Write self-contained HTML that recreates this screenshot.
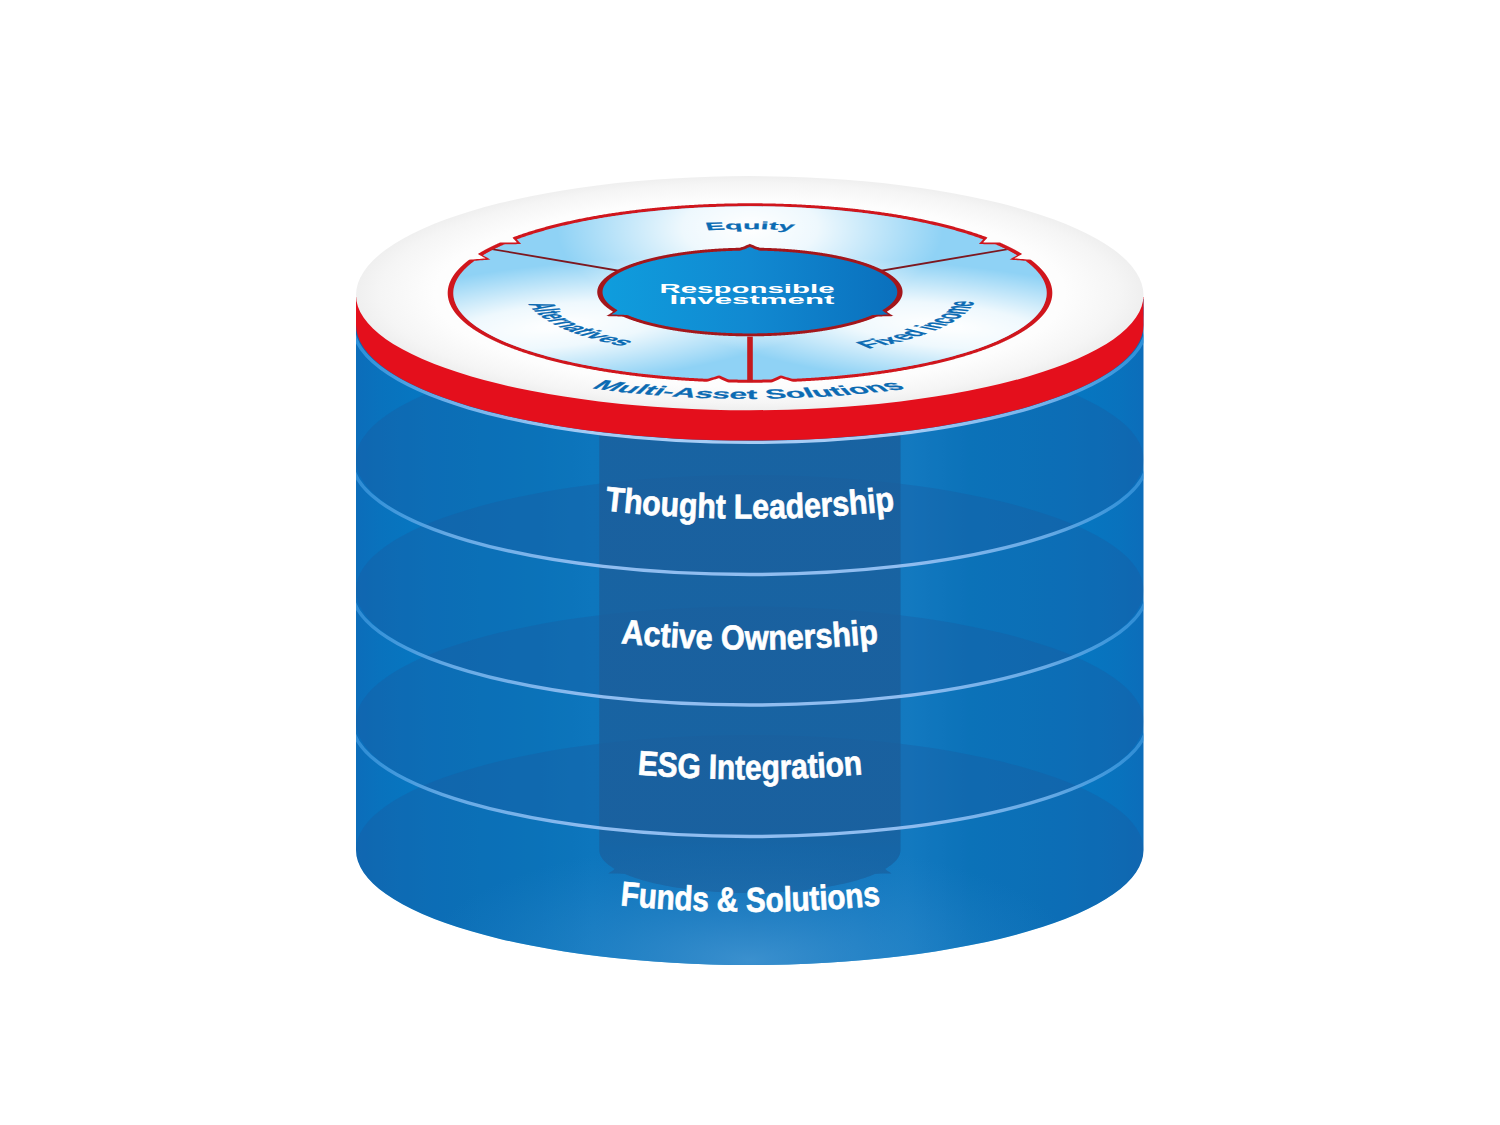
<!DOCTYPE html>
<html><head><meta charset="utf-8"><title>Responsible Investment</title>
<style>html,body{margin:0;padding:0;background:#fff}svg{display:block}text{font-family:"Liberation Sans",sans-serif;font-weight:bold}</style>
</head><body>
<svg width="1500" height="1125" viewBox="0 0 1500 1125">
<defs>
<linearGradient id="body" x1="0" x2="1" y1="0" y2="0"><stop offset="0" stop-color="#0c6dba"/><stop offset="0.03" stop-color="#0972bd"/><stop offset="0.1" stop-color="#0578c2"/><stop offset="0.22" stop-color="#037ec6"/><stop offset="0.3" stop-color="#0684cc"/><stop offset="0.5" stop-color="#067ac3"/><stop offset="0.7" stop-color="#0f89d1"/><stop offset="0.78" stop-color="#047ec6"/><stop offset="0.9" stop-color="#0578c2"/><stop offset="0.97" stop-color="#0972bd"/><stop offset="1" stop-color="#0c6dba"/></linearGradient>
<radialGradient id="disk" cx="0.5" cy="0.5" r="0.5"><stop offset="0" stop-color="#fff"/><stop offset="0.8" stop-color="#fdfdfd"/><stop offset="0.94" stop-color="#f5f5f5"/><stop offset="1" stop-color="#efefef"/></radialGradient>
<radialGradient id="glow" cx="0.5" cy="0.5" r="0.5"><stop offset="0" stop-color="#fff" stop-opacity="1"/><stop offset="0.35" stop-color="#fff" stop-opacity="0.85"/><stop offset="1" stop-color="#fff" stop-opacity="0"/></radialGradient>
<radialGradient id="bot" cx="0.5" cy="0.5" r="0.5"><stop offset="0" stop-color="#4a9bd6" stop-opacity="0.75"/><stop offset="0.5" stop-color="#3a90d0" stop-opacity="0.35"/><stop offset="1" stop-color="#2a86cc" stop-opacity="0"/></radialGradient>
<linearGradient id="lg" gradientUnits="userSpaceOnUse" x1="356" x2="1143.5" y1="0" y2="0"><stop offset="0" stop-color="#3a97de" stop-opacity="0.75"/><stop offset="0.12" stop-color="#6fb0ea" stop-opacity="0.9"/><stop offset="0.3" stop-color="#90bdf0"/><stop offset="0.7" stop-color="#90bdf0"/><stop offset="0.88" stop-color="#6fb0ea" stop-opacity="0.9"/><stop offset="1" stop-color="#3a97de" stop-opacity="0.75"/></linearGradient>
<linearGradient id="colg" gradientUnits="userSpaceOnUse" x1="0" x2="0" y1="826" y2="850"><stop offset="0" stop-color="#1e5e98" stop-opacity="0.66"/><stop offset="1" stop-color="#1e5e98" stop-opacity="0.52"/></linearGradient>
<linearGradient id="lg1" gradientUnits="userSpaceOnUse" x1="356" x2="1143.5" y1="0" y2="0"><stop offset="0" stop-color="#2f93dc" stop-opacity="0.9"/><stop offset="0.12" stop-color="#6fb0ea"/><stop offset="0.3" stop-color="#a6ccf5"/><stop offset="0.7" stop-color="#a6ccf5"/><stop offset="0.88" stop-color="#6fb0ea"/><stop offset="1" stop-color="#2f93dc" stop-opacity="0.9"/></linearGradient>
<linearGradient id="core" x1="0" x2="1" y1="0" y2="0"><stop offset="0" stop-color="#0f9ddd"/><stop offset="0.5" stop-color="#1189d1"/><stop offset="1" stop-color="#0a70bd"/></linearGradient>
<clipPath id="cb"><path d="M356,299.1 V850 A393.75,115 0 0 0 1143.5,850 V299.1 Z"/></clipPath>
<clipPath id="ring"><circle r="299.5"/></clipPath>
</defs>
<rect width="1500" height="1125" fill="#fff"/>
<path d="M356,299.1 V850 A393.75,115 0 0 0 1143.5,850 V299.1 Z" fill="url(#body)"/>
<g clip-path="url(#cb)">
<path d="M599.3,291 L599.3,850 L599.32,850.75 L599.39,851.5 L599.51,852.25 L599.67,853 L599.87,853.75 L600.13,854.5 L600.42,855.25 L600.77,855.99 L601.15,856.73 L601.59,857.47 L602.07,858.21 L602.59,858.95 L603.16,859.68 L603.77,860.41 L604.43,861.14 L605.13,861.86 L605.88,862.58 L606.67,863.3 L607.5,864.01 L608.38,864.72 L609.3,865.42 L610.27,866.12 L611.27,866.82 L612.32,867.51 L613.41,868.19 L614.54,868.87 L613.8,869.82 L612.27,870.92 L610.36,872.11 L608.22,873.38 L613.14,873.48 L617.71,873.61 L621.8,873.78 L625.05,874.07 L626.54,874.69 L628.06,875.3 L629.63,875.9 L631.23,876.5 L632.86,877.09 L634.53,877.67 L636.24,878.24 L637.98,878.8 L639.76,879.35 L641.57,879.9 L643.41,880.43 L645.28,880.96 L647.19,881.48 L649.13,881.99 L651.1,882.48 L653.1,882.97 L655.12,883.45 L657.18,883.92 L659.27,884.37 L661.38,884.82 L663.52,885.26 L665.69,885.68 L667.88,886.1 L670.09,886.5 L672.34,886.89 L674.6,887.28 L676.89,887.64 L679.2,888 L681.53,888.35 L683.88,888.69 L686.25,889.01 L688.65,889.32 L691.06,889.62 L693.48,889.91 L695.93,890.18 L698.39,890.45 L700.87,890.7 L703.36,890.93 L705.87,891.16 L708.39,891.37 L710.92,891.57 L713.47,891.76 L716.02,891.94 L718.59,892.1 L721.16,892.25 L723.75,892.39 L726.34,892.51 L728.94,892.62 L731.55,892.72 L734.16,892.81 L736.77,892.88 L739.39,892.94 L742.02,892.98 L744.64,893.02 L747.27,893.03 L749.9,893.04 L752.53,893.03 L755.16,893.02 L757.78,892.98 L760.41,892.94 L763.03,892.88 L765.64,892.81 L768.25,892.72 L770.86,892.62 L773.46,892.51 L776.05,892.39 L778.64,892.25 L781.21,892.1 L783.78,891.94 L786.33,891.76 L788.88,891.57 L791.41,891.37 L793.93,891.16 L796.44,890.93 L798.93,890.7 L801.41,890.45 L803.87,890.18 L806.32,889.91 L808.74,889.62 L811.15,889.32 L813.55,889.01 L815.92,888.69 L818.27,888.35 L820.6,888 L822.91,887.64 L825.2,887.28 L827.46,886.89 L829.71,886.5 L831.92,886.1 L834.11,885.68 L836.28,885.26 L838.42,884.82 L840.53,884.37 L842.62,883.92 L844.68,883.45 L846.7,882.97 L848.7,882.48 L850.67,881.99 L852.61,881.48 L854.52,880.96 L856.39,880.43 L858.23,879.9 L860.04,879.35 L861.82,878.8 L863.56,878.24 L865.27,877.67 L866.94,877.09 L868.57,876.5 L870.17,875.9 L871.74,875.3 L873.26,874.69 L874.75,874.07 L878,873.78 L882.09,873.61 L886.66,873.48 L891.58,873.38 L889.44,872.11 L887.53,870.92 L886,869.82 L885.26,868.87 L886.39,868.19 L887.48,867.51 L888.53,866.82 L889.53,866.12 L890.5,865.42 L891.42,864.72 L892.3,864.01 L893.13,863.3 L893.92,862.58 L894.67,861.86 L895.37,861.14 L896.03,860.41 L896.64,859.68 L897.21,858.95 L897.73,858.21 L898.21,857.47 L898.65,856.73 L899.03,855.99 L899.38,855.25 L899.67,854.5 L899.93,853.75 L900.13,853 L900.29,852.25 L900.41,851.5 L900.48,850.75 L900.5,850 L900.5,291 Z" fill="#0778c1"/>
<ellipse cx="749.75" cy="328" rx="393.75" ry="115" fill="#1c569c" fill-opacity="0.31"/>
<ellipse cx="749.75" cy="459.5" rx="393.75" ry="115" fill="#1c569c" fill-opacity="0.31"/>
<ellipse cx="749.75" cy="590" rx="393.75" ry="115" fill="#1c569c" fill-opacity="0.31"/>
<ellipse cx="749.75" cy="721.5" rx="393.75" ry="115" fill="#1c569c" fill-opacity="0.31"/>
<ellipse cx="749.75" cy="850" rx="393.75" ry="115" fill="#1c569c" fill-opacity="0.31"/>
<ellipse cx="749.75" cy="960" rx="330" ry="120" fill="url(#bot)"/>
<path d="M599.3,291 L599.3,850 L599.32,850.75 L599.39,851.5 L599.51,852.25 L599.67,853 L599.87,853.75 L600.13,854.5 L600.42,855.25 L600.77,855.99 L601.15,856.73 L601.59,857.47 L602.07,858.21 L602.59,858.95 L603.16,859.68 L603.77,860.41 L604.43,861.14 L605.13,861.86 L605.88,862.58 L606.67,863.3 L607.5,864.01 L608.38,864.72 L609.3,865.42 L610.27,866.12 L611.27,866.82 L612.32,867.51 L613.41,868.19 L614.54,868.87 L613.8,869.82 L612.27,870.92 L610.36,872.11 L608.22,873.38 L613.14,873.48 L617.71,873.61 L621.8,873.78 L625.05,874.07 L626.54,874.69 L628.06,875.3 L629.63,875.9 L631.23,876.5 L632.86,877.09 L634.53,877.67 L636.24,878.24 L637.98,878.8 L639.76,879.35 L641.57,879.9 L643.41,880.43 L645.28,880.96 L647.19,881.48 L649.13,881.99 L651.1,882.48 L653.1,882.97 L655.12,883.45 L657.18,883.92 L659.27,884.37 L661.38,884.82 L663.52,885.26 L665.69,885.68 L667.88,886.1 L670.09,886.5 L672.34,886.89 L674.6,887.28 L676.89,887.64 L679.2,888 L681.53,888.35 L683.88,888.69 L686.25,889.01 L688.65,889.32 L691.06,889.62 L693.48,889.91 L695.93,890.18 L698.39,890.45 L700.87,890.7 L703.36,890.93 L705.87,891.16 L708.39,891.37 L710.92,891.57 L713.47,891.76 L716.02,891.94 L718.59,892.1 L721.16,892.25 L723.75,892.39 L726.34,892.51 L728.94,892.62 L731.55,892.72 L734.16,892.81 L736.77,892.88 L739.39,892.94 L742.02,892.98 L744.64,893.02 L747.27,893.03 L749.9,893.04 L752.53,893.03 L755.16,893.02 L757.78,892.98 L760.41,892.94 L763.03,892.88 L765.64,892.81 L768.25,892.72 L770.86,892.62 L773.46,892.51 L776.05,892.39 L778.64,892.25 L781.21,892.1 L783.78,891.94 L786.33,891.76 L788.88,891.57 L791.41,891.37 L793.93,891.16 L796.44,890.93 L798.93,890.7 L801.41,890.45 L803.87,890.18 L806.32,889.91 L808.74,889.62 L811.15,889.32 L813.55,889.01 L815.92,888.69 L818.27,888.35 L820.6,888 L822.91,887.64 L825.2,887.28 L827.46,886.89 L829.71,886.5 L831.92,886.1 L834.11,885.68 L836.28,885.26 L838.42,884.82 L840.53,884.37 L842.62,883.92 L844.68,883.45 L846.7,882.97 L848.7,882.48 L850.67,881.99 L852.61,881.48 L854.52,880.96 L856.39,880.43 L858.23,879.9 L860.04,879.35 L861.82,878.8 L863.56,878.24 L865.27,877.67 L866.94,877.09 L868.57,876.5 L870.17,875.9 L871.74,875.3 L873.26,874.69 L874.75,874.07 L878,873.78 L882.09,873.61 L886.66,873.48 L891.58,873.38 L889.44,872.11 L887.53,870.92 L886,869.82 L885.26,868.87 L886.39,868.19 L887.48,867.51 L888.53,866.82 L889.53,866.12 L890.5,865.42 L891.42,864.72 L892.3,864.01 L893.13,863.3 L893.92,862.58 L894.67,861.86 L895.37,861.14 L896.03,860.41 L896.64,859.68 L897.21,858.95 L897.73,858.21 L898.21,857.47 L898.65,856.73 L899.03,855.99 L899.38,855.25 L899.67,854.5 L899.93,853.75 L900.13,853 L900.29,852.25 L900.41,851.5 L900.48,850.75 L900.5,850 L900.5,291 Z" fill="url(#colg)"/>
<ellipse cx="749.75" cy="325" rx="396.75" ry="117.4" fill="none" stroke="url(#lg1)" stroke-width="3.4"/>
<path d="M352,459.5 A397.75,115 0 0 0 1147.5,459.5" fill="none" stroke="url(#lg)" stroke-width="3.4"/>
<path d="M352,590 A397.75,115 0 0 0 1147.5,590" fill="none" stroke="url(#lg)" stroke-width="3.4"/>
<path d="M352,721.5 A397.75,115 0 0 0 1147.5,721.5" fill="none" stroke="url(#lg)" stroke-width="3.4"/>
</g>
<path d="M356,297.1 V325 A393.75,115.6 0 0 0 1143.5,325 V297.1 Z" fill="#e40f1c"/>
<path d="M356,295.1 V295.1 A393.75,119 0 0 1 1143.5,295.1 V295.1 A393.75,115.1 0 0 1 356,295.1 Z" fill="url(#disk)"/>
<g transform="translate(750,293) scale(1,0.29449)">
<path d="M299.5,-0 L299.5,-1.31 L299.49,-2.61 L299.47,-3.92 L299.45,-5.23 L299.43,-6.53 L299.4,-7.84 L299.36,-9.15 L299.32,-10.45 L299.27,-11.76 L299.21,-13.06 L299.16,-14.37 L299.09,-15.67 L299.02,-16.98 L298.94,-18.28 L298.86,-19.59 L298.77,-20.89 L298.68,-22.2 L298.58,-23.5 L298.47,-24.8 L298.36,-26.1 L298.24,-27.4 L298.12,-28.71 L297.99,-30.01 L297.86,-31.31 L297.72,-32.61 L297.57,-33.9 L297.42,-35.2 L297.27,-36.5 L297.11,-37.8 L296.94,-39.09 L296.76,-40.39 L296.59,-41.68 L296.4,-42.98 L296.21,-44.27 L296.01,-45.56 L295.81,-46.85 L295.61,-48.14 L295.39,-49.43 L295.17,-50.72 L294.95,-52.01 L294.72,-53.29 L294.48,-54.58 L294.24,-55.86 L294,-57.15 L293.75,-58.43 L293.49,-59.71 L293.22,-60.99 L292.96,-62.27 L292.68,-63.55 L292.4,-64.82 L292.12,-66.1 L291.82,-67.37 L291.53,-68.65 L291.22,-69.92 L290.92,-71.19 L290.6,-72.46 L290.28,-73.72 L289.96,-74.99 L289.63,-76.25 L289.29,-77.52 L288.95,-78.78 L288.61,-80.04 L288.26,-81.3 L287.9,-82.55 L287.53,-83.81 L287.17,-85.06 L286.79,-86.31 L286.41,-87.57 L286.03,-88.81 L285.64,-90.06 L285.24,-91.31 L284.84,-92.55 L284.43,-93.79 L284.02,-95.03 L283.61,-96.27 L283.18,-97.51 L282.75,-98.74 L282.32,-99.98 L281.88,-101.21 L281.44,-102.44 L280.99,-103.66 L280.53,-104.89 L280.07,-106.11 L279.61,-107.33 L279.14,-108.55 L278.66,-109.77 L278.18,-110.98 L276.44,-111.69 L274.39,-112.26 L272.34,-112.81 L270.29,-113.34 L268.24,-113.86 L266.19,-114.36 L264.14,-114.85 L262.09,-115.32 L262.51,-116.88 L263.53,-118.71 L264.55,-120.56 L265.55,-122.42 L266.55,-124.29 L267.53,-126.17 L268.5,-128.07 L269.46,-129.97 L269.19,-131.29 L268.61,-132.47 L268.03,-133.64 L267.45,-134.8 L266.86,-135.97 L266.26,-137.13 L265.66,-138.29 L265.05,-139.45 L264.44,-140.61 L263.83,-141.76 L263.21,-142.91 L262.58,-144.06 L261.95,-145.2 L261.31,-146.34 L260.67,-147.48 L260.03,-148.62 L259.37,-149.75 L258.72,-150.88 L258.06,-152.01 L257.39,-153.13 L256.72,-154.25 L256.05,-155.37 L255.37,-156.49 L254.68,-157.6 L253.99,-158.71 L253.3,-159.82 L252.6,-160.92 L251.89,-162.02 L251.18,-163.12 L250.47,-164.21 L249.75,-165.31 L249.03,-166.39 L248.3,-167.48 L247.28,-168.37 L245.16,-168.49 L243.03,-168.6 L240.91,-168.69 L238.8,-168.76 L236.68,-168.82 L234.58,-168.87 L232.47,-168.9 L230.92,-169.31 L231.53,-171.32 L232.13,-173.34 L232.72,-175.37 L233.3,-177.4 L233.86,-179.45 L234.41,-181.5 L234.95,-183.56 L235.2,-185.42 L234.39,-186.44 L233.58,-187.46 L232.76,-188.48 L231.93,-189.5 L231.1,-190.51 L230.27,-191.51 L229.43,-192.51 L228.59,-193.51 L227.74,-194.51 L226.89,-195.5 L226.04,-196.49 L225.18,-197.47 L224.31,-198.45 L223.44,-199.43 L222.57,-200.4 L221.7,-201.37 L220.81,-202.34 L219.93,-203.3 L219.04,-204.26 L218.15,-205.21 L217.25,-206.16 L216.35,-207.11 L215.44,-208.05 L214.53,-208.99 L213.62,-209.92 L212.7,-210.85 L211.78,-211.78 L210.85,-212.7 L209.92,-213.62 L208.99,-214.53 L208.05,-215.44 L207.11,-216.35 L206.16,-217.25 L205.21,-218.15 L204.26,-219.04 L203.3,-219.93 L202.34,-220.81 L201.37,-221.7 L200.4,-222.57 L199.43,-223.44 L198.45,-224.31 L197.47,-225.18 L196.49,-226.04 L195.5,-226.89 L194.51,-227.74 L193.51,-228.59 L192.51,-229.43 L191.51,-230.27 L190.51,-231.1 L189.5,-231.93 L188.48,-232.76 L187.46,-233.58 L186.44,-234.39 L185.42,-235.2 L184.39,-236.01 L183.36,-236.81 L182.32,-237.61 L181.29,-238.4 L180.24,-239.19 L179.2,-239.98 L178.15,-240.76 L177.1,-241.53 L176.04,-242.3 L174.98,-243.07 L173.92,-243.83 L172.85,-244.58 L171.79,-245.34 L170.71,-246.08 L169.64,-246.83 L168.56,-247.56 L167.48,-248.3 L166.39,-249.03 L165.31,-249.75 L164.21,-250.47 L163.12,-251.18 L162.02,-251.89 L160.92,-252.6 L159.82,-253.3 L158.71,-253.99 L157.6,-254.68 L156.49,-255.37 L155.37,-256.05 L154.25,-256.72 L153.13,-257.39 L152.01,-258.06 L150.88,-258.72 L149.75,-259.37 L148.62,-260.03 L147.48,-260.67 L146.34,-261.31 L145.2,-261.95 L144.06,-262.58 L142.91,-263.21 L141.76,-263.83 L140.61,-264.44 L139.45,-265.05 L138.29,-265.66 L137.13,-266.26 L135.97,-266.86 L134.8,-267.45 L133.64,-268.03 L132.47,-268.61 L131.29,-269.19 L130.12,-269.76 L128.94,-270.32 L127.76,-270.88 L126.57,-271.44 L125.39,-271.99 L124.2,-272.53 L123.01,-273.07 L121.82,-273.61 L120.62,-274.14 L119.43,-274.66 L118.23,-275.18 L117.02,-275.69 L115.82,-276.2 L114.61,-276.7 L113.41,-277.2 L112.19,-277.69 L110.98,-278.18 L109.77,-278.66 L108.55,-279.14 L107.33,-279.61 L106.11,-280.07 L104.89,-280.53 L103.66,-280.99 L102.44,-281.44 L101.21,-281.88 L99.98,-282.32 L98.74,-282.75 L97.51,-283.18 L96.27,-283.61 L95.03,-284.02 L93.79,-284.43 L92.55,-284.84 L91.31,-285.24 L90.06,-285.64 L88.81,-286.03 L87.57,-286.41 L86.31,-286.79 L85.06,-287.17 L83.81,-287.53 L82.55,-287.9 L81.3,-288.26 L80.04,-288.61 L78.78,-288.95 L77.52,-289.29 L76.25,-289.63 L74.99,-289.96 L73.72,-290.28 L72.46,-290.6 L71.19,-290.92 L69.92,-291.22 L68.65,-291.53 L67.37,-291.82 L66.1,-292.12 L64.82,-292.4 L63.55,-292.68 L62.27,-292.96 L60.99,-293.22 L59.71,-293.49 L58.43,-293.75 L57.15,-294 L55.86,-294.24 L54.58,-294.48 L53.29,-294.72 L52.01,-294.95 L50.72,-295.17 L49.43,-295.39 L48.14,-295.61 L46.85,-295.81 L45.56,-296.01 L44.27,-296.21 L42.98,-296.4 L41.68,-296.59 L40.39,-296.76 L39.09,-296.94 L37.8,-297.11 L36.5,-297.27 L35.2,-297.42 L33.9,-297.57 L32.61,-297.72 L31.31,-297.86 L30.01,-297.99 L28.71,-298.12 L27.4,-298.24 L26.1,-298.36 L24.8,-298.47 L23.5,-298.58 L22.2,-298.68 L20.89,-298.77 L19.59,-298.86 L18.28,-298.94 L16.98,-299.02 L15.67,-299.09 L14.37,-299.16 L13.06,-299.21 L11.76,-299.27 L10.45,-299.32 L9.15,-299.36 L7.84,-299.4 L6.53,-299.43 L5.23,-299.45 L3.92,-299.47 L2.61,-299.49 L1.31,-299.5 L0,-299.5 L-1.31,-299.5 L-2.61,-299.49 L-3.92,-299.47 L-5.23,-299.45 L-6.53,-299.43 L-7.84,-299.4 L-9.15,-299.36 L-10.45,-299.32 L-11.76,-299.27 L-13.06,-299.21 L-14.37,-299.16 L-15.67,-299.09 L-16.98,-299.02 L-18.28,-298.94 L-19.59,-298.86 L-20.89,-298.77 L-22.2,-298.68 L-23.5,-298.58 L-24.8,-298.47 L-26.1,-298.36 L-27.4,-298.24 L-28.71,-298.12 L-30.01,-297.99 L-31.31,-297.86 L-32.61,-297.72 L-33.9,-297.57 L-35.2,-297.42 L-36.5,-297.27 L-37.8,-297.11 L-39.09,-296.94 L-40.39,-296.76 L-41.68,-296.59 L-42.98,-296.4 L-44.27,-296.21 L-45.56,-296.01 L-46.85,-295.81 L-48.14,-295.61 L-49.43,-295.39 L-50.72,-295.17 L-52.01,-294.95 L-53.29,-294.72 L-54.58,-294.48 L-55.86,-294.24 L-57.15,-294 L-58.43,-293.75 L-59.71,-293.49 L-60.99,-293.22 L-62.27,-292.96 L-63.55,-292.68 L-64.82,-292.4 L-66.1,-292.12 L-67.37,-291.82 L-68.65,-291.53 L-69.92,-291.22 L-71.19,-290.92 L-72.46,-290.6 L-73.72,-290.28 L-74.99,-289.96 L-76.25,-289.63 L-77.52,-289.29 L-78.78,-288.95 L-80.04,-288.61 L-81.3,-288.26 L-82.55,-287.9 L-83.81,-287.53 L-85.06,-287.17 L-86.31,-286.79 L-87.57,-286.41 L-88.81,-286.03 L-90.06,-285.64 L-91.31,-285.24 L-92.55,-284.84 L-93.79,-284.43 L-95.03,-284.02 L-96.27,-283.61 L-97.51,-283.18 L-98.74,-282.75 L-99.98,-282.32 L-101.21,-281.88 L-102.44,-281.44 L-103.66,-280.99 L-104.89,-280.53 L-106.11,-280.07 L-107.33,-279.61 L-108.55,-279.14 L-109.77,-278.66 L-110.98,-278.18 L-112.19,-277.69 L-113.41,-277.2 L-114.61,-276.7 L-115.82,-276.2 L-117.02,-275.69 L-118.23,-275.18 L-119.43,-274.66 L-120.62,-274.14 L-121.82,-273.61 L-123.01,-273.07 L-124.2,-272.53 L-125.39,-271.99 L-126.57,-271.44 L-127.76,-270.88 L-128.94,-270.32 L-130.12,-269.76 L-131.29,-269.19 L-132.47,-268.61 L-133.64,-268.03 L-134.8,-267.45 L-135.97,-266.86 L-137.13,-266.26 L-138.29,-265.66 L-139.45,-265.05 L-140.61,-264.44 L-141.76,-263.83 L-142.91,-263.21 L-144.06,-262.58 L-145.2,-261.95 L-146.34,-261.31 L-147.48,-260.67 L-148.62,-260.03 L-149.75,-259.37 L-150.88,-258.72 L-152.01,-258.06 L-153.13,-257.39 L-154.25,-256.72 L-155.37,-256.05 L-156.49,-255.37 L-157.6,-254.68 L-158.71,-253.99 L-159.82,-253.3 L-160.92,-252.6 L-162.02,-251.89 L-163.12,-251.18 L-164.21,-250.47 L-165.31,-249.75 L-166.39,-249.03 L-167.48,-248.3 L-168.56,-247.56 L-169.64,-246.83 L-170.71,-246.08 L-171.79,-245.34 L-172.85,-244.58 L-173.92,-243.83 L-174.98,-243.07 L-176.04,-242.3 L-177.1,-241.53 L-178.15,-240.76 L-179.2,-239.98 L-180.24,-239.19 L-181.29,-238.4 L-182.32,-237.61 L-183.36,-236.81 L-184.39,-236.01 L-185.42,-235.2 L-186.44,-234.39 L-187.46,-233.58 L-188.48,-232.76 L-189.5,-231.93 L-190.51,-231.1 L-191.51,-230.27 L-192.51,-229.43 L-193.51,-228.59 L-194.51,-227.74 L-195.5,-226.89 L-196.49,-226.04 L-197.47,-225.18 L-198.45,-224.31 L-199.43,-223.44 L-200.4,-222.57 L-201.37,-221.7 L-202.34,-220.81 L-203.3,-219.93 L-204.26,-219.04 L-205.21,-218.15 L-206.16,-217.25 L-207.11,-216.35 L-208.05,-215.44 L-208.99,-214.53 L-209.92,-213.62 L-210.85,-212.7 L-211.78,-211.78 L-212.7,-210.85 L-213.62,-209.92 L-214.53,-208.99 L-215.44,-208.05 L-216.35,-207.11 L-217.25,-206.16 L-218.15,-205.21 L-219.04,-204.26 L-219.93,-203.3 L-220.81,-202.34 L-221.7,-201.37 L-222.57,-200.4 L-223.44,-199.43 L-224.31,-198.45 L-225.18,-197.47 L-226.04,-196.49 L-226.89,-195.5 L-227.74,-194.51 L-228.59,-193.51 L-229.43,-192.51 L-230.27,-191.51 L-231.1,-190.51 L-231.93,-189.5 L-232.76,-188.48 L-233.58,-187.46 L-234.39,-186.44 L-235.2,-185.42 L-234.95,-183.56 L-234.41,-181.5 L-233.86,-179.45 L-233.3,-177.4 L-232.72,-175.37 L-232.13,-173.34 L-231.53,-171.32 L-230.92,-169.31 L-232.47,-168.9 L-234.58,-168.87 L-236.68,-168.82 L-238.8,-168.76 L-240.91,-168.69 L-243.03,-168.6 L-245.16,-168.49 L-247.28,-168.37 L-248.3,-167.48 L-249.03,-166.39 L-249.75,-165.31 L-250.47,-164.21 L-251.18,-163.12 L-251.89,-162.02 L-252.6,-160.92 L-253.3,-159.82 L-253.99,-158.71 L-254.68,-157.6 L-255.37,-156.49 L-256.05,-155.37 L-256.72,-154.25 L-257.39,-153.13 L-258.06,-152.01 L-258.72,-150.88 L-259.37,-149.75 L-260.03,-148.62 L-260.67,-147.48 L-261.31,-146.34 L-261.95,-145.2 L-262.58,-144.06 L-263.21,-142.91 L-263.83,-141.76 L-264.44,-140.61 L-265.05,-139.45 L-265.66,-138.29 L-266.26,-137.13 L-266.86,-135.97 L-267.45,-134.8 L-268.03,-133.64 L-268.61,-132.47 L-269.19,-131.29 L-269.46,-129.97 L-268.5,-128.07 L-267.53,-126.17 L-266.55,-124.29 L-265.55,-122.42 L-264.55,-120.56 L-263.53,-118.71 L-262.51,-116.88 L-262.09,-115.32 L-264.14,-114.85 L-266.19,-114.36 L-268.24,-113.86 L-270.29,-113.34 L-272.34,-112.81 L-274.39,-112.26 L-276.44,-111.69 L-278.18,-110.98 L-278.66,-109.77 L-279.14,-108.55 L-279.61,-107.33 L-280.07,-106.11 L-280.53,-104.89 L-280.99,-103.66 L-281.44,-102.44 L-281.88,-101.21 L-282.32,-99.98 L-282.75,-98.74 L-283.18,-97.51 L-283.61,-96.27 L-284.02,-95.03 L-284.43,-93.79 L-284.84,-92.55 L-285.24,-91.31 L-285.64,-90.06 L-286.03,-88.81 L-286.41,-87.57 L-286.79,-86.31 L-287.17,-85.06 L-287.53,-83.81 L-287.9,-82.55 L-288.26,-81.3 L-288.61,-80.04 L-288.95,-78.78 L-289.29,-77.52 L-289.63,-76.25 L-289.96,-74.99 L-290.28,-73.72 L-290.6,-72.46 L-290.92,-71.19 L-291.22,-69.92 L-291.53,-68.65 L-291.82,-67.37 L-292.12,-66.1 L-292.4,-64.82 L-292.68,-63.55 L-292.96,-62.27 L-293.22,-60.99 L-293.49,-59.71 L-293.75,-58.43 L-294,-57.15 L-294.24,-55.86 L-294.48,-54.58 L-294.72,-53.29 L-294.95,-52.01 L-295.17,-50.72 L-295.39,-49.43 L-295.61,-48.14 L-295.81,-46.85 L-296.01,-45.56 L-296.21,-44.27 L-296.4,-42.98 L-296.59,-41.68 L-296.76,-40.39 L-296.94,-39.09 L-297.11,-37.8 L-297.27,-36.5 L-297.42,-35.2 L-297.57,-33.9 L-297.72,-32.61 L-297.86,-31.31 L-297.99,-30.01 L-298.12,-28.71 L-298.24,-27.4 L-298.36,-26.1 L-298.47,-24.8 L-298.58,-23.5 L-298.68,-22.2 L-298.77,-20.89 L-298.86,-19.59 L-298.94,-18.28 L-299.02,-16.98 L-299.09,-15.67 L-299.16,-14.37 L-299.21,-13.06 L-299.27,-11.76 L-299.32,-10.45 L-299.36,-9.15 L-299.4,-7.84 L-299.43,-6.53 L-299.45,-5.23 L-299.47,-3.92 L-299.49,-2.61 L-299.5,-1.31 L-299.5,-0 L-299.5,1.31 L-299.49,2.61 L-299.47,3.92 L-299.45,5.23 L-299.43,6.53 L-299.4,7.84 L-299.36,9.15 L-299.32,10.45 L-299.27,11.76 L-299.21,13.06 L-299.16,14.37 L-299.09,15.67 L-299.02,16.98 L-298.94,18.28 L-298.86,19.59 L-298.77,20.89 L-298.68,22.2 L-298.58,23.5 L-298.47,24.8 L-298.36,26.1 L-298.24,27.4 L-298.12,28.71 L-297.99,30.01 L-297.86,31.31 L-297.72,32.61 L-297.57,33.9 L-297.42,35.2 L-297.27,36.5 L-297.11,37.8 L-296.94,39.09 L-296.76,40.39 L-296.59,41.68 L-296.4,42.98 L-296.21,44.27 L-296.01,45.56 L-295.81,46.85 L-295.61,48.14 L-295.39,49.43 L-295.17,50.72 L-294.95,52.01 L-294.72,53.29 L-294.48,54.58 L-294.24,55.86 L-294,57.15 L-293.75,58.43 L-293.49,59.71 L-293.22,60.99 L-292.96,62.27 L-292.68,63.55 L-292.4,64.82 L-292.12,66.1 L-291.82,67.37 L-291.53,68.65 L-291.22,69.92 L-290.92,71.19 L-290.6,72.46 L-290.28,73.72 L-289.96,74.99 L-289.63,76.25 L-289.29,77.52 L-288.95,78.78 L-288.61,80.04 L-288.26,81.3 L-287.9,82.55 L-287.53,83.81 L-287.17,85.06 L-286.79,86.31 L-286.41,87.57 L-286.03,88.81 L-285.64,90.06 L-285.24,91.31 L-284.84,92.55 L-284.43,93.79 L-284.02,95.03 L-283.61,96.27 L-283.18,97.51 L-282.75,98.74 L-282.32,99.98 L-281.88,101.21 L-281.44,102.44 L-280.99,103.66 L-280.53,104.89 L-280.07,106.11 L-279.61,107.33 L-279.14,108.55 L-278.66,109.77 L-278.18,110.98 L-277.69,112.19 L-277.2,113.41 L-276.7,114.61 L-276.2,115.82 L-275.69,117.02 L-275.18,118.23 L-274.66,119.43 L-274.14,120.62 L-273.61,121.82 L-273.07,123.01 L-272.53,124.2 L-271.99,125.39 L-271.44,126.57 L-270.88,127.76 L-270.32,128.94 L-269.76,130.12 L-269.19,131.29 L-268.61,132.47 L-268.03,133.64 L-267.45,134.8 L-266.86,135.97 L-266.26,137.13 L-265.66,138.29 L-265.05,139.45 L-264.44,140.61 L-263.83,141.76 L-263.21,142.91 L-262.58,144.06 L-261.95,145.2 L-261.31,146.34 L-260.67,147.48 L-260.03,148.62 L-259.37,149.75 L-258.72,150.88 L-258.06,152.01 L-257.39,153.13 L-256.72,154.25 L-256.05,155.37 L-255.37,156.49 L-254.68,157.6 L-253.99,158.71 L-253.3,159.82 L-252.6,160.92 L-251.89,162.02 L-251.18,163.12 L-250.47,164.21 L-249.75,165.31 L-249.03,166.39 L-248.3,167.48 L-247.56,168.56 L-246.83,169.64 L-246.08,170.71 L-245.34,171.79 L-244.58,172.85 L-243.83,173.92 L-243.07,174.98 L-242.3,176.04 L-241.53,177.1 L-240.76,178.15 L-239.98,179.2 L-239.19,180.24 L-238.4,181.29 L-237.61,182.32 L-236.81,183.36 L-236.01,184.39 L-235.2,185.42 L-234.39,186.44 L-233.58,187.46 L-232.76,188.48 L-231.93,189.5 L-231.1,190.51 L-230.27,191.51 L-229.43,192.51 L-228.59,193.51 L-227.74,194.51 L-226.89,195.5 L-226.04,196.49 L-225.18,197.47 L-224.31,198.45 L-223.44,199.43 L-222.57,200.4 L-221.7,201.37 L-220.81,202.34 L-219.93,203.3 L-219.04,204.26 L-218.15,205.21 L-217.25,206.16 L-216.35,207.11 L-215.44,208.05 L-214.53,208.99 L-213.62,209.92 L-212.7,210.85 L-211.78,211.78 L-210.85,212.7 L-209.92,213.62 L-208.99,214.53 L-208.05,215.44 L-207.11,216.35 L-206.16,217.25 L-205.21,218.15 L-204.26,219.04 L-203.3,219.93 L-202.34,220.81 L-201.37,221.7 L-200.4,222.57 L-199.43,223.44 L-198.45,224.31 L-197.47,225.18 L-196.49,226.04 L-195.5,226.89 L-194.51,227.74 L-193.51,228.59 L-192.51,229.43 L-191.51,230.27 L-190.51,231.1 L-189.5,231.93 L-188.48,232.76 L-187.46,233.58 L-186.44,234.39 L-185.42,235.2 L-184.39,236.01 L-183.36,236.81 L-182.32,237.61 L-181.29,238.4 L-180.24,239.19 L-179.2,239.98 L-178.15,240.76 L-177.1,241.53 L-176.04,242.3 L-174.98,243.07 L-173.92,243.83 L-172.85,244.58 L-171.79,245.34 L-170.71,246.08 L-169.64,246.83 L-168.56,247.56 L-167.48,248.3 L-166.39,249.03 L-165.31,249.75 L-164.21,250.47 L-163.12,251.18 L-162.02,251.89 L-160.92,252.6 L-159.82,253.3 L-158.71,253.99 L-157.6,254.68 L-156.49,255.37 L-155.37,256.05 L-154.25,256.72 L-153.13,257.39 L-152.01,258.06 L-150.88,258.72 L-149.75,259.37 L-148.62,260.03 L-147.48,260.67 L-146.34,261.31 L-145.2,261.95 L-144.06,262.58 L-142.91,263.21 L-141.76,263.83 L-140.61,264.44 L-139.45,265.05 L-138.29,265.66 L-137.13,266.26 L-135.97,266.86 L-134.8,267.45 L-133.64,268.03 L-132.47,268.61 L-131.29,269.19 L-130.12,269.76 L-128.94,270.32 L-127.76,270.88 L-126.57,271.44 L-125.39,271.99 L-124.2,272.53 L-123.01,273.07 L-121.82,273.61 L-120.62,274.14 L-119.43,274.66 L-118.23,275.18 L-117.02,275.69 L-115.82,276.2 L-114.61,276.7 L-113.41,277.2 L-112.19,277.69 L-110.98,278.18 L-109.77,278.66 L-108.55,279.14 L-107.33,279.61 L-106.11,280.07 L-104.89,280.53 L-103.66,280.99 L-102.44,281.44 L-101.21,281.88 L-99.98,282.32 L-98.74,282.75 L-97.51,283.18 L-96.27,283.61 L-95.03,284.02 L-93.79,284.43 L-92.55,284.84 L-91.31,285.24 L-90.06,285.64 L-88.81,286.03 L-87.57,286.41 L-86.31,286.79 L-85.06,287.17 L-83.81,287.53 L-82.55,287.9 L-81.3,288.26 L-80.04,288.61 L-78.78,288.95 L-77.52,289.29 L-76.25,289.63 L-74.99,289.96 L-73.72,290.28 L-72.46,290.6 L-71.19,290.92 L-69.92,291.22 L-68.65,291.53 L-67.37,291.82 L-66.1,292.12 L-64.82,292.4 L-63.55,292.68 L-62.27,292.96 L-60.99,293.22 L-59.71,293.49 L-58.43,293.75 L-57.15,294 L-55.86,294.24 L-54.58,294.48 L-53.29,294.72 L-52.01,294.95 L-50.72,295.17 L-49.43,295.39 L-48.14,295.61 L-46.85,295.81 L-45.56,296.01 L-44.27,296.21 L-42.98,296.4 L-41.49,295.25 L-39.98,293.75 L-38.48,292.25 L-36.99,290.74 L-35.51,289.23 L-34.05,287.7 L-32.61,286.17 L-31.17,284.64 L-30.04,285.78 L-28.96,287.58 L-27.86,289.39 L-26.76,291.19 L-25.63,292.98 L-24.49,294.77 L-23.34,296.56 L-22.17,298.34 L-20.89,298.77 L-19.59,298.86 L-18.28,298.94 L-16.98,299.02 L-15.67,299.09 L-14.37,299.16 L-13.06,299.21 L-11.76,299.27 L-10.45,299.32 L-9.15,299.36 L-7.84,299.4 L-6.53,299.43 L-5.23,299.45 L-3.92,299.47 L-2.61,299.49 L-1.31,299.5 L-0,299.5 L1.31,299.5 L2.61,299.49 L3.92,299.47 L5.23,299.45 L6.53,299.43 L7.84,299.4 L9.15,299.36 L10.45,299.32 L11.76,299.27 L13.06,299.21 L14.37,299.16 L15.67,299.09 L16.98,299.02 L18.28,298.94 L19.59,298.86 L20.89,298.77 L22.17,298.34 L23.34,296.56 L24.49,294.77 L25.63,292.98 L26.76,291.19 L27.86,289.39 L28.96,287.58 L30.04,285.78 L31.17,284.64 L32.61,286.17 L34.05,287.7 L35.51,289.23 L36.99,290.74 L38.48,292.25 L39.98,293.75 L41.49,295.25 L42.98,296.4 L44.27,296.21 L45.56,296.01 L46.85,295.81 L48.14,295.61 L49.43,295.39 L50.72,295.17 L52.01,294.95 L53.29,294.72 L54.58,294.48 L55.86,294.24 L57.15,294 L58.43,293.75 L59.71,293.49 L60.99,293.22 L62.27,292.96 L63.55,292.68 L64.82,292.4 L66.1,292.12 L67.37,291.82 L68.65,291.53 L69.92,291.22 L71.19,290.92 L72.46,290.6 L73.72,290.28 L74.99,289.96 L76.25,289.63 L77.52,289.29 L78.78,288.95 L80.04,288.61 L81.3,288.26 L82.55,287.9 L83.81,287.53 L85.06,287.17 L86.31,286.79 L87.57,286.41 L88.81,286.03 L90.06,285.64 L91.31,285.24 L92.55,284.84 L93.79,284.43 L95.03,284.02 L96.27,283.61 L97.51,283.18 L98.74,282.75 L99.98,282.32 L101.21,281.88 L102.44,281.44 L103.66,280.99 L104.89,280.53 L106.11,280.07 L107.33,279.61 L108.55,279.14 L109.77,278.66 L110.98,278.18 L112.19,277.69 L113.41,277.2 L114.61,276.7 L115.82,276.2 L117.02,275.69 L118.23,275.18 L119.43,274.66 L120.62,274.14 L121.82,273.61 L123.01,273.07 L124.2,272.53 L125.39,271.99 L126.57,271.44 L127.76,270.88 L128.94,270.32 L130.12,269.76 L131.29,269.19 L132.47,268.61 L133.64,268.03 L134.8,267.45 L135.97,266.86 L137.13,266.26 L138.29,265.66 L139.45,265.05 L140.61,264.44 L141.76,263.83 L142.91,263.21 L144.06,262.58 L145.2,261.95 L146.34,261.31 L147.48,260.67 L148.62,260.03 L149.75,259.37 L150.88,258.72 L152.01,258.06 L153.13,257.39 L154.25,256.72 L155.37,256.05 L156.49,255.37 L157.6,254.68 L158.71,253.99 L159.82,253.3 L160.92,252.6 L162.02,251.89 L163.12,251.18 L164.21,250.47 L165.31,249.75 L166.39,249.03 L167.48,248.3 L168.56,247.56 L169.64,246.83 L170.71,246.08 L171.79,245.34 L172.85,244.58 L173.92,243.83 L174.98,243.07 L176.04,242.3 L177.1,241.53 L178.15,240.76 L179.2,239.98 L180.24,239.19 L181.29,238.4 L182.32,237.61 L183.36,236.81 L184.39,236.01 L185.42,235.2 L186.44,234.39 L187.46,233.58 L188.48,232.76 L189.5,231.93 L190.51,231.1 L191.51,230.27 L192.51,229.43 L193.51,228.59 L194.51,227.74 L195.5,226.89 L196.49,226.04 L197.47,225.18 L198.45,224.31 L199.43,223.44 L200.4,222.57 L201.37,221.7 L202.34,220.81 L203.3,219.93 L204.26,219.04 L205.21,218.15 L206.16,217.25 L207.11,216.35 L208.05,215.44 L208.99,214.53 L209.92,213.62 L210.85,212.7 L211.78,211.78 L212.7,210.85 L213.62,209.92 L214.53,208.99 L215.44,208.05 L216.35,207.11 L217.25,206.16 L218.15,205.21 L219.04,204.26 L219.93,203.3 L220.81,202.34 L221.7,201.37 L222.57,200.4 L223.44,199.43 L224.31,198.45 L225.18,197.47 L226.04,196.49 L226.89,195.5 L227.74,194.51 L228.59,193.51 L229.43,192.51 L230.27,191.51 L231.1,190.51 L231.93,189.5 L232.76,188.48 L233.58,187.46 L234.39,186.44 L235.2,185.42 L236.01,184.39 L236.81,183.36 L237.61,182.32 L238.4,181.29 L239.19,180.24 L239.98,179.2 L240.76,178.15 L241.53,177.1 L242.3,176.04 L243.07,174.98 L243.83,173.92 L244.58,172.85 L245.34,171.79 L246.08,170.71 L246.83,169.64 L247.56,168.56 L248.3,167.48 L249.03,166.39 L249.75,165.31 L250.47,164.21 L251.18,163.12 L251.89,162.02 L252.6,160.92 L253.3,159.82 L253.99,158.71 L254.68,157.6 L255.37,156.49 L256.05,155.37 L256.72,154.25 L257.39,153.13 L258.06,152.01 L258.72,150.88 L259.37,149.75 L260.03,148.62 L260.67,147.48 L261.31,146.34 L261.95,145.2 L262.58,144.06 L263.21,142.91 L263.83,141.76 L264.44,140.61 L265.05,139.45 L265.66,138.29 L266.26,137.13 L266.86,135.97 L267.45,134.8 L268.03,133.64 L268.61,132.47 L269.19,131.29 L269.76,130.12 L270.32,128.94 L270.88,127.76 L271.44,126.57 L271.99,125.39 L272.53,124.2 L273.07,123.01 L273.61,121.82 L274.14,120.62 L274.66,119.43 L275.18,118.23 L275.69,117.02 L276.2,115.82 L276.7,114.61 L277.2,113.41 L277.69,112.19 L278.18,110.98 L278.66,109.77 L279.14,108.55 L279.61,107.33 L280.07,106.11 L280.53,104.89 L280.99,103.66 L281.44,102.44 L281.88,101.21 L282.32,99.98 L282.75,98.74 L283.18,97.51 L283.61,96.27 L284.02,95.03 L284.43,93.79 L284.84,92.55 L285.24,91.31 L285.64,90.06 L286.03,88.81 L286.41,87.57 L286.79,86.31 L287.17,85.06 L287.53,83.81 L287.9,82.55 L288.26,81.3 L288.61,80.04 L288.95,78.78 L289.29,77.52 L289.63,76.25 L289.96,74.99 L290.28,73.72 L290.6,72.46 L290.92,71.19 L291.22,69.92 L291.53,68.65 L291.82,67.37 L292.12,66.1 L292.4,64.82 L292.68,63.55 L292.96,62.27 L293.22,60.99 L293.49,59.71 L293.75,58.43 L294,57.15 L294.24,55.86 L294.48,54.58 L294.72,53.29 L294.95,52.01 L295.17,50.72 L295.39,49.43 L295.61,48.14 L295.81,46.85 L296.01,45.56 L296.21,44.27 L296.4,42.98 L296.59,41.68 L296.76,40.39 L296.94,39.09 L297.11,37.8 L297.27,36.5 L297.42,35.2 L297.57,33.9 L297.72,32.61 L297.86,31.31 L297.99,30.01 L298.12,28.71 L298.24,27.4 L298.36,26.1 L298.47,24.8 L298.58,23.5 L298.68,22.2 L298.77,20.89 L298.86,19.59 L298.94,18.28 L299.02,16.98 L299.09,15.67 L299.16,14.37 L299.21,13.06 L299.27,11.76 L299.32,10.45 L299.36,9.15 L299.4,7.84 L299.43,6.53 L299.45,5.23 L299.47,3.92 L299.49,2.61 L299.5,1.31 L299.5,0 Z" fill="#d0161d" transform="scale(1.00935,1.01701)"/>
<g transform="scale(0.99065,0.98299)">
<path d="M299.5,-0 L299.5,-1.31 L299.49,-2.61 L299.47,-3.92 L299.45,-5.23 L299.43,-6.53 L299.4,-7.84 L299.36,-9.15 L299.32,-10.45 L299.27,-11.76 L299.21,-13.06 L299.16,-14.37 L299.09,-15.67 L299.02,-16.98 L298.94,-18.28 L298.86,-19.59 L298.77,-20.89 L298.68,-22.2 L298.58,-23.5 L298.47,-24.8 L298.36,-26.1 L298.24,-27.4 L298.12,-28.71 L297.99,-30.01 L297.86,-31.31 L297.72,-32.61 L297.57,-33.9 L297.42,-35.2 L297.27,-36.5 L297.11,-37.8 L296.94,-39.09 L296.76,-40.39 L296.59,-41.68 L296.4,-42.98 L296.21,-44.27 L296.01,-45.56 L295.81,-46.85 L295.61,-48.14 L295.39,-49.43 L295.17,-50.72 L294.95,-52.01 L294.72,-53.29 L294.48,-54.58 L294.24,-55.86 L294,-57.15 L293.75,-58.43 L293.49,-59.71 L293.22,-60.99 L292.96,-62.27 L292.68,-63.55 L292.4,-64.82 L292.12,-66.1 L291.82,-67.37 L291.53,-68.65 L291.22,-69.92 L290.92,-71.19 L290.6,-72.46 L290.28,-73.72 L289.96,-74.99 L289.63,-76.25 L289.29,-77.52 L288.95,-78.78 L288.61,-80.04 L288.26,-81.3 L287.9,-82.55 L287.53,-83.81 L287.17,-85.06 L286.79,-86.31 L286.41,-87.57 L286.03,-88.81 L285.64,-90.06 L285.24,-91.31 L284.84,-92.55 L284.43,-93.79 L284.02,-95.03 L283.61,-96.27 L283.18,-97.51 L282.75,-98.74 L282.32,-99.98 L281.88,-101.21 L281.44,-102.44 L280.99,-103.66 L280.53,-104.89 L280.07,-106.11 L279.61,-107.33 L279.14,-108.55 L278.66,-109.77 L278.18,-110.98 L276.44,-111.69 L274.39,-112.26 L272.34,-112.81 L270.29,-113.34 L268.24,-113.86 L266.19,-114.36 L264.14,-114.85 L262.09,-115.32 L262.51,-116.88 L263.53,-118.71 L264.55,-120.56 L265.55,-122.42 L266.55,-124.29 L267.53,-126.17 L268.5,-128.07 L269.46,-129.97 L269.19,-131.29 L268.61,-132.47 L268.03,-133.64 L267.45,-134.8 L266.86,-135.97 L266.26,-137.13 L265.66,-138.29 L265.05,-139.45 L264.44,-140.61 L263.83,-141.76 L263.21,-142.91 L262.58,-144.06 L261.95,-145.2 L261.31,-146.34 L260.67,-147.48 L260.03,-148.62 L259.37,-149.75 L258.72,-150.88 L258.06,-152.01 L257.39,-153.13 L256.72,-154.25 L256.05,-155.37 L255.37,-156.49 L254.68,-157.6 L253.99,-158.71 L253.3,-159.82 L252.6,-160.92 L251.89,-162.02 L251.18,-163.12 L250.47,-164.21 L249.75,-165.31 L249.03,-166.39 L248.3,-167.48 L247.28,-168.37 L245.16,-168.49 L243.03,-168.6 L240.91,-168.69 L238.8,-168.76 L236.68,-168.82 L234.58,-168.87 L232.47,-168.9 L230.92,-169.31 L231.53,-171.32 L232.13,-173.34 L232.72,-175.37 L233.3,-177.4 L233.86,-179.45 L234.41,-181.5 L234.95,-183.56 L235.2,-185.42 L234.39,-186.44 L233.58,-187.46 L232.76,-188.48 L231.93,-189.5 L231.1,-190.51 L230.27,-191.51 L229.43,-192.51 L228.59,-193.51 L227.74,-194.51 L226.89,-195.5 L226.04,-196.49 L225.18,-197.47 L224.31,-198.45 L223.44,-199.43 L222.57,-200.4 L221.7,-201.37 L220.81,-202.34 L219.93,-203.3 L219.04,-204.26 L218.15,-205.21 L217.25,-206.16 L216.35,-207.11 L215.44,-208.05 L214.53,-208.99 L213.62,-209.92 L212.7,-210.85 L211.78,-211.78 L210.85,-212.7 L209.92,-213.62 L208.99,-214.53 L208.05,-215.44 L207.11,-216.35 L206.16,-217.25 L205.21,-218.15 L204.26,-219.04 L203.3,-219.93 L202.34,-220.81 L201.37,-221.7 L200.4,-222.57 L199.43,-223.44 L198.45,-224.31 L197.47,-225.18 L196.49,-226.04 L195.5,-226.89 L194.51,-227.74 L193.51,-228.59 L192.51,-229.43 L191.51,-230.27 L190.51,-231.1 L189.5,-231.93 L188.48,-232.76 L187.46,-233.58 L186.44,-234.39 L185.42,-235.2 L184.39,-236.01 L183.36,-236.81 L182.32,-237.61 L181.29,-238.4 L180.24,-239.19 L179.2,-239.98 L178.15,-240.76 L177.1,-241.53 L176.04,-242.3 L174.98,-243.07 L173.92,-243.83 L172.85,-244.58 L171.79,-245.34 L170.71,-246.08 L169.64,-246.83 L168.56,-247.56 L167.48,-248.3 L166.39,-249.03 L165.31,-249.75 L164.21,-250.47 L163.12,-251.18 L162.02,-251.89 L160.92,-252.6 L159.82,-253.3 L158.71,-253.99 L157.6,-254.68 L156.49,-255.37 L155.37,-256.05 L154.25,-256.72 L153.13,-257.39 L152.01,-258.06 L150.88,-258.72 L149.75,-259.37 L148.62,-260.03 L147.48,-260.67 L146.34,-261.31 L145.2,-261.95 L144.06,-262.58 L142.91,-263.21 L141.76,-263.83 L140.61,-264.44 L139.45,-265.05 L138.29,-265.66 L137.13,-266.26 L135.97,-266.86 L134.8,-267.45 L133.64,-268.03 L132.47,-268.61 L131.29,-269.19 L130.12,-269.76 L128.94,-270.32 L127.76,-270.88 L126.57,-271.44 L125.39,-271.99 L124.2,-272.53 L123.01,-273.07 L121.82,-273.61 L120.62,-274.14 L119.43,-274.66 L118.23,-275.18 L117.02,-275.69 L115.82,-276.2 L114.61,-276.7 L113.41,-277.2 L112.19,-277.69 L110.98,-278.18 L109.77,-278.66 L108.55,-279.14 L107.33,-279.61 L106.11,-280.07 L104.89,-280.53 L103.66,-280.99 L102.44,-281.44 L101.21,-281.88 L99.98,-282.32 L98.74,-282.75 L97.51,-283.18 L96.27,-283.61 L95.03,-284.02 L93.79,-284.43 L92.55,-284.84 L91.31,-285.24 L90.06,-285.64 L88.81,-286.03 L87.57,-286.41 L86.31,-286.79 L85.06,-287.17 L83.81,-287.53 L82.55,-287.9 L81.3,-288.26 L80.04,-288.61 L78.78,-288.95 L77.52,-289.29 L76.25,-289.63 L74.99,-289.96 L73.72,-290.28 L72.46,-290.6 L71.19,-290.92 L69.92,-291.22 L68.65,-291.53 L67.37,-291.82 L66.1,-292.12 L64.82,-292.4 L63.55,-292.68 L62.27,-292.96 L60.99,-293.22 L59.71,-293.49 L58.43,-293.75 L57.15,-294 L55.86,-294.24 L54.58,-294.48 L53.29,-294.72 L52.01,-294.95 L50.72,-295.17 L49.43,-295.39 L48.14,-295.61 L46.85,-295.81 L45.56,-296.01 L44.27,-296.21 L42.98,-296.4 L41.68,-296.59 L40.39,-296.76 L39.09,-296.94 L37.8,-297.11 L36.5,-297.27 L35.2,-297.42 L33.9,-297.57 L32.61,-297.72 L31.31,-297.86 L30.01,-297.99 L28.71,-298.12 L27.4,-298.24 L26.1,-298.36 L24.8,-298.47 L23.5,-298.58 L22.2,-298.68 L20.89,-298.77 L19.59,-298.86 L18.28,-298.94 L16.98,-299.02 L15.67,-299.09 L14.37,-299.16 L13.06,-299.21 L11.76,-299.27 L10.45,-299.32 L9.15,-299.36 L7.84,-299.4 L6.53,-299.43 L5.23,-299.45 L3.92,-299.47 L2.61,-299.49 L1.31,-299.5 L0,-299.5 L-1.31,-299.5 L-2.61,-299.49 L-3.92,-299.47 L-5.23,-299.45 L-6.53,-299.43 L-7.84,-299.4 L-9.15,-299.36 L-10.45,-299.32 L-11.76,-299.27 L-13.06,-299.21 L-14.37,-299.16 L-15.67,-299.09 L-16.98,-299.02 L-18.28,-298.94 L-19.59,-298.86 L-20.89,-298.77 L-22.2,-298.68 L-23.5,-298.58 L-24.8,-298.47 L-26.1,-298.36 L-27.4,-298.24 L-28.71,-298.12 L-30.01,-297.99 L-31.31,-297.86 L-32.61,-297.72 L-33.9,-297.57 L-35.2,-297.42 L-36.5,-297.27 L-37.8,-297.11 L-39.09,-296.94 L-40.39,-296.76 L-41.68,-296.59 L-42.98,-296.4 L-44.27,-296.21 L-45.56,-296.01 L-46.85,-295.81 L-48.14,-295.61 L-49.43,-295.39 L-50.72,-295.17 L-52.01,-294.95 L-53.29,-294.72 L-54.58,-294.48 L-55.86,-294.24 L-57.15,-294 L-58.43,-293.75 L-59.71,-293.49 L-60.99,-293.22 L-62.27,-292.96 L-63.55,-292.68 L-64.82,-292.4 L-66.1,-292.12 L-67.37,-291.82 L-68.65,-291.53 L-69.92,-291.22 L-71.19,-290.92 L-72.46,-290.6 L-73.72,-290.28 L-74.99,-289.96 L-76.25,-289.63 L-77.52,-289.29 L-78.78,-288.95 L-80.04,-288.61 L-81.3,-288.26 L-82.55,-287.9 L-83.81,-287.53 L-85.06,-287.17 L-86.31,-286.79 L-87.57,-286.41 L-88.81,-286.03 L-90.06,-285.64 L-91.31,-285.24 L-92.55,-284.84 L-93.79,-284.43 L-95.03,-284.02 L-96.27,-283.61 L-97.51,-283.18 L-98.74,-282.75 L-99.98,-282.32 L-101.21,-281.88 L-102.44,-281.44 L-103.66,-280.99 L-104.89,-280.53 L-106.11,-280.07 L-107.33,-279.61 L-108.55,-279.14 L-109.77,-278.66 L-110.98,-278.18 L-112.19,-277.69 L-113.41,-277.2 L-114.61,-276.7 L-115.82,-276.2 L-117.02,-275.69 L-118.23,-275.18 L-119.43,-274.66 L-120.62,-274.14 L-121.82,-273.61 L-123.01,-273.07 L-124.2,-272.53 L-125.39,-271.99 L-126.57,-271.44 L-127.76,-270.88 L-128.94,-270.32 L-130.12,-269.76 L-131.29,-269.19 L-132.47,-268.61 L-133.64,-268.03 L-134.8,-267.45 L-135.97,-266.86 L-137.13,-266.26 L-138.29,-265.66 L-139.45,-265.05 L-140.61,-264.44 L-141.76,-263.83 L-142.91,-263.21 L-144.06,-262.58 L-145.2,-261.95 L-146.34,-261.31 L-147.48,-260.67 L-148.62,-260.03 L-149.75,-259.37 L-150.88,-258.72 L-152.01,-258.06 L-153.13,-257.39 L-154.25,-256.72 L-155.37,-256.05 L-156.49,-255.37 L-157.6,-254.68 L-158.71,-253.99 L-159.82,-253.3 L-160.92,-252.6 L-162.02,-251.89 L-163.12,-251.18 L-164.21,-250.47 L-165.31,-249.75 L-166.39,-249.03 L-167.48,-248.3 L-168.56,-247.56 L-169.64,-246.83 L-170.71,-246.08 L-171.79,-245.34 L-172.85,-244.58 L-173.92,-243.83 L-174.98,-243.07 L-176.04,-242.3 L-177.1,-241.53 L-178.15,-240.76 L-179.2,-239.98 L-180.24,-239.19 L-181.29,-238.4 L-182.32,-237.61 L-183.36,-236.81 L-184.39,-236.01 L-185.42,-235.2 L-186.44,-234.39 L-187.46,-233.58 L-188.48,-232.76 L-189.5,-231.93 L-190.51,-231.1 L-191.51,-230.27 L-192.51,-229.43 L-193.51,-228.59 L-194.51,-227.74 L-195.5,-226.89 L-196.49,-226.04 L-197.47,-225.18 L-198.45,-224.31 L-199.43,-223.44 L-200.4,-222.57 L-201.37,-221.7 L-202.34,-220.81 L-203.3,-219.93 L-204.26,-219.04 L-205.21,-218.15 L-206.16,-217.25 L-207.11,-216.35 L-208.05,-215.44 L-208.99,-214.53 L-209.92,-213.62 L-210.85,-212.7 L-211.78,-211.78 L-212.7,-210.85 L-213.62,-209.92 L-214.53,-208.99 L-215.44,-208.05 L-216.35,-207.11 L-217.25,-206.16 L-218.15,-205.21 L-219.04,-204.26 L-219.93,-203.3 L-220.81,-202.34 L-221.7,-201.37 L-222.57,-200.4 L-223.44,-199.43 L-224.31,-198.45 L-225.18,-197.47 L-226.04,-196.49 L-226.89,-195.5 L-227.74,-194.51 L-228.59,-193.51 L-229.43,-192.51 L-230.27,-191.51 L-231.1,-190.51 L-231.93,-189.5 L-232.76,-188.48 L-233.58,-187.46 L-234.39,-186.44 L-235.2,-185.42 L-234.95,-183.56 L-234.41,-181.5 L-233.86,-179.45 L-233.3,-177.4 L-232.72,-175.37 L-232.13,-173.34 L-231.53,-171.32 L-230.92,-169.31 L-232.47,-168.9 L-234.58,-168.87 L-236.68,-168.82 L-238.8,-168.76 L-240.91,-168.69 L-243.03,-168.6 L-245.16,-168.49 L-247.28,-168.37 L-248.3,-167.48 L-249.03,-166.39 L-249.75,-165.31 L-250.47,-164.21 L-251.18,-163.12 L-251.89,-162.02 L-252.6,-160.92 L-253.3,-159.82 L-253.99,-158.71 L-254.68,-157.6 L-255.37,-156.49 L-256.05,-155.37 L-256.72,-154.25 L-257.39,-153.13 L-258.06,-152.01 L-258.72,-150.88 L-259.37,-149.75 L-260.03,-148.62 L-260.67,-147.48 L-261.31,-146.34 L-261.95,-145.2 L-262.58,-144.06 L-263.21,-142.91 L-263.83,-141.76 L-264.44,-140.61 L-265.05,-139.45 L-265.66,-138.29 L-266.26,-137.13 L-266.86,-135.97 L-267.45,-134.8 L-268.03,-133.64 L-268.61,-132.47 L-269.19,-131.29 L-269.46,-129.97 L-268.5,-128.07 L-267.53,-126.17 L-266.55,-124.29 L-265.55,-122.42 L-264.55,-120.56 L-263.53,-118.71 L-262.51,-116.88 L-262.09,-115.32 L-264.14,-114.85 L-266.19,-114.36 L-268.24,-113.86 L-270.29,-113.34 L-272.34,-112.81 L-274.39,-112.26 L-276.44,-111.69 L-278.18,-110.98 L-278.66,-109.77 L-279.14,-108.55 L-279.61,-107.33 L-280.07,-106.11 L-280.53,-104.89 L-280.99,-103.66 L-281.44,-102.44 L-281.88,-101.21 L-282.32,-99.98 L-282.75,-98.74 L-283.18,-97.51 L-283.61,-96.27 L-284.02,-95.03 L-284.43,-93.79 L-284.84,-92.55 L-285.24,-91.31 L-285.64,-90.06 L-286.03,-88.81 L-286.41,-87.57 L-286.79,-86.31 L-287.17,-85.06 L-287.53,-83.81 L-287.9,-82.55 L-288.26,-81.3 L-288.61,-80.04 L-288.95,-78.78 L-289.29,-77.52 L-289.63,-76.25 L-289.96,-74.99 L-290.28,-73.72 L-290.6,-72.46 L-290.92,-71.19 L-291.22,-69.92 L-291.53,-68.65 L-291.82,-67.37 L-292.12,-66.1 L-292.4,-64.82 L-292.68,-63.55 L-292.96,-62.27 L-293.22,-60.99 L-293.49,-59.71 L-293.75,-58.43 L-294,-57.15 L-294.24,-55.86 L-294.48,-54.58 L-294.72,-53.29 L-294.95,-52.01 L-295.17,-50.72 L-295.39,-49.43 L-295.61,-48.14 L-295.81,-46.85 L-296.01,-45.56 L-296.21,-44.27 L-296.4,-42.98 L-296.59,-41.68 L-296.76,-40.39 L-296.94,-39.09 L-297.11,-37.8 L-297.27,-36.5 L-297.42,-35.2 L-297.57,-33.9 L-297.72,-32.61 L-297.86,-31.31 L-297.99,-30.01 L-298.12,-28.71 L-298.24,-27.4 L-298.36,-26.1 L-298.47,-24.8 L-298.58,-23.5 L-298.68,-22.2 L-298.77,-20.89 L-298.86,-19.59 L-298.94,-18.28 L-299.02,-16.98 L-299.09,-15.67 L-299.16,-14.37 L-299.21,-13.06 L-299.27,-11.76 L-299.32,-10.45 L-299.36,-9.15 L-299.4,-7.84 L-299.43,-6.53 L-299.45,-5.23 L-299.47,-3.92 L-299.49,-2.61 L-299.5,-1.31 L-299.5,-0 L-299.5,1.31 L-299.49,2.61 L-299.47,3.92 L-299.45,5.23 L-299.43,6.53 L-299.4,7.84 L-299.36,9.15 L-299.32,10.45 L-299.27,11.76 L-299.21,13.06 L-299.16,14.37 L-299.09,15.67 L-299.02,16.98 L-298.94,18.28 L-298.86,19.59 L-298.77,20.89 L-298.68,22.2 L-298.58,23.5 L-298.47,24.8 L-298.36,26.1 L-298.24,27.4 L-298.12,28.71 L-297.99,30.01 L-297.86,31.31 L-297.72,32.61 L-297.57,33.9 L-297.42,35.2 L-297.27,36.5 L-297.11,37.8 L-296.94,39.09 L-296.76,40.39 L-296.59,41.68 L-296.4,42.98 L-296.21,44.27 L-296.01,45.56 L-295.81,46.85 L-295.61,48.14 L-295.39,49.43 L-295.17,50.72 L-294.95,52.01 L-294.72,53.29 L-294.48,54.58 L-294.24,55.86 L-294,57.15 L-293.75,58.43 L-293.49,59.71 L-293.22,60.99 L-292.96,62.27 L-292.68,63.55 L-292.4,64.82 L-292.12,66.1 L-291.82,67.37 L-291.53,68.65 L-291.22,69.92 L-290.92,71.19 L-290.6,72.46 L-290.28,73.72 L-289.96,74.99 L-289.63,76.25 L-289.29,77.52 L-288.95,78.78 L-288.61,80.04 L-288.26,81.3 L-287.9,82.55 L-287.53,83.81 L-287.17,85.06 L-286.79,86.31 L-286.41,87.57 L-286.03,88.81 L-285.64,90.06 L-285.24,91.31 L-284.84,92.55 L-284.43,93.79 L-284.02,95.03 L-283.61,96.27 L-283.18,97.51 L-282.75,98.74 L-282.32,99.98 L-281.88,101.21 L-281.44,102.44 L-280.99,103.66 L-280.53,104.89 L-280.07,106.11 L-279.61,107.33 L-279.14,108.55 L-278.66,109.77 L-278.18,110.98 L-277.69,112.19 L-277.2,113.41 L-276.7,114.61 L-276.2,115.82 L-275.69,117.02 L-275.18,118.23 L-274.66,119.43 L-274.14,120.62 L-273.61,121.82 L-273.07,123.01 L-272.53,124.2 L-271.99,125.39 L-271.44,126.57 L-270.88,127.76 L-270.32,128.94 L-269.76,130.12 L-269.19,131.29 L-268.61,132.47 L-268.03,133.64 L-267.45,134.8 L-266.86,135.97 L-266.26,137.13 L-265.66,138.29 L-265.05,139.45 L-264.44,140.61 L-263.83,141.76 L-263.21,142.91 L-262.58,144.06 L-261.95,145.2 L-261.31,146.34 L-260.67,147.48 L-260.03,148.62 L-259.37,149.75 L-258.72,150.88 L-258.06,152.01 L-257.39,153.13 L-256.72,154.25 L-256.05,155.37 L-255.37,156.49 L-254.68,157.6 L-253.99,158.71 L-253.3,159.82 L-252.6,160.92 L-251.89,162.02 L-251.18,163.12 L-250.47,164.21 L-249.75,165.31 L-249.03,166.39 L-248.3,167.48 L-247.56,168.56 L-246.83,169.64 L-246.08,170.71 L-245.34,171.79 L-244.58,172.85 L-243.83,173.92 L-243.07,174.98 L-242.3,176.04 L-241.53,177.1 L-240.76,178.15 L-239.98,179.2 L-239.19,180.24 L-238.4,181.29 L-237.61,182.32 L-236.81,183.36 L-236.01,184.39 L-235.2,185.42 L-234.39,186.44 L-233.58,187.46 L-232.76,188.48 L-231.93,189.5 L-231.1,190.51 L-230.27,191.51 L-229.43,192.51 L-228.59,193.51 L-227.74,194.51 L-226.89,195.5 L-226.04,196.49 L-225.18,197.47 L-224.31,198.45 L-223.44,199.43 L-222.57,200.4 L-221.7,201.37 L-220.81,202.34 L-219.93,203.3 L-219.04,204.26 L-218.15,205.21 L-217.25,206.16 L-216.35,207.11 L-215.44,208.05 L-214.53,208.99 L-213.62,209.92 L-212.7,210.85 L-211.78,211.78 L-210.85,212.7 L-209.92,213.62 L-208.99,214.53 L-208.05,215.44 L-207.11,216.35 L-206.16,217.25 L-205.21,218.15 L-204.26,219.04 L-203.3,219.93 L-202.34,220.81 L-201.37,221.7 L-200.4,222.57 L-199.43,223.44 L-198.45,224.31 L-197.47,225.18 L-196.49,226.04 L-195.5,226.89 L-194.51,227.74 L-193.51,228.59 L-192.51,229.43 L-191.51,230.27 L-190.51,231.1 L-189.5,231.93 L-188.48,232.76 L-187.46,233.58 L-186.44,234.39 L-185.42,235.2 L-184.39,236.01 L-183.36,236.81 L-182.32,237.61 L-181.29,238.4 L-180.24,239.19 L-179.2,239.98 L-178.15,240.76 L-177.1,241.53 L-176.04,242.3 L-174.98,243.07 L-173.92,243.83 L-172.85,244.58 L-171.79,245.34 L-170.71,246.08 L-169.64,246.83 L-168.56,247.56 L-167.48,248.3 L-166.39,249.03 L-165.31,249.75 L-164.21,250.47 L-163.12,251.18 L-162.02,251.89 L-160.92,252.6 L-159.82,253.3 L-158.71,253.99 L-157.6,254.68 L-156.49,255.37 L-155.37,256.05 L-154.25,256.72 L-153.13,257.39 L-152.01,258.06 L-150.88,258.72 L-149.75,259.37 L-148.62,260.03 L-147.48,260.67 L-146.34,261.31 L-145.2,261.95 L-144.06,262.58 L-142.91,263.21 L-141.76,263.83 L-140.61,264.44 L-139.45,265.05 L-138.29,265.66 L-137.13,266.26 L-135.97,266.86 L-134.8,267.45 L-133.64,268.03 L-132.47,268.61 L-131.29,269.19 L-130.12,269.76 L-128.94,270.32 L-127.76,270.88 L-126.57,271.44 L-125.39,271.99 L-124.2,272.53 L-123.01,273.07 L-121.82,273.61 L-120.62,274.14 L-119.43,274.66 L-118.23,275.18 L-117.02,275.69 L-115.82,276.2 L-114.61,276.7 L-113.41,277.2 L-112.19,277.69 L-110.98,278.18 L-109.77,278.66 L-108.55,279.14 L-107.33,279.61 L-106.11,280.07 L-104.89,280.53 L-103.66,280.99 L-102.44,281.44 L-101.21,281.88 L-99.98,282.32 L-98.74,282.75 L-97.51,283.18 L-96.27,283.61 L-95.03,284.02 L-93.79,284.43 L-92.55,284.84 L-91.31,285.24 L-90.06,285.64 L-88.81,286.03 L-87.57,286.41 L-86.31,286.79 L-85.06,287.17 L-83.81,287.53 L-82.55,287.9 L-81.3,288.26 L-80.04,288.61 L-78.78,288.95 L-77.52,289.29 L-76.25,289.63 L-74.99,289.96 L-73.72,290.28 L-72.46,290.6 L-71.19,290.92 L-69.92,291.22 L-68.65,291.53 L-67.37,291.82 L-66.1,292.12 L-64.82,292.4 L-63.55,292.68 L-62.27,292.96 L-60.99,293.22 L-59.71,293.49 L-58.43,293.75 L-57.15,294 L-55.86,294.24 L-54.58,294.48 L-53.29,294.72 L-52.01,294.95 L-50.72,295.17 L-49.43,295.39 L-48.14,295.61 L-46.85,295.81 L-45.56,296.01 L-44.27,296.21 L-42.98,296.4 L-41.49,295.25 L-39.98,293.75 L-38.48,292.25 L-36.99,290.74 L-35.51,289.23 L-34.05,287.7 L-32.61,286.17 L-31.17,284.64 L-30.04,285.78 L-28.96,287.58 L-27.86,289.39 L-26.76,291.19 L-25.63,292.98 L-24.49,294.77 L-23.34,296.56 L-22.17,298.34 L-20.89,298.77 L-19.59,298.86 L-18.28,298.94 L-16.98,299.02 L-15.67,299.09 L-14.37,299.16 L-13.06,299.21 L-11.76,299.27 L-10.45,299.32 L-9.15,299.36 L-7.84,299.4 L-6.53,299.43 L-5.23,299.45 L-3.92,299.47 L-2.61,299.49 L-1.31,299.5 L-0,299.5 L1.31,299.5 L2.61,299.49 L3.92,299.47 L5.23,299.45 L6.53,299.43 L7.84,299.4 L9.15,299.36 L10.45,299.32 L11.76,299.27 L13.06,299.21 L14.37,299.16 L15.67,299.09 L16.98,299.02 L18.28,298.94 L19.59,298.86 L20.89,298.77 L22.17,298.34 L23.34,296.56 L24.49,294.77 L25.63,292.98 L26.76,291.19 L27.86,289.39 L28.96,287.58 L30.04,285.78 L31.17,284.64 L32.61,286.17 L34.05,287.7 L35.51,289.23 L36.99,290.74 L38.48,292.25 L39.98,293.75 L41.49,295.25 L42.98,296.4 L44.27,296.21 L45.56,296.01 L46.85,295.81 L48.14,295.61 L49.43,295.39 L50.72,295.17 L52.01,294.95 L53.29,294.72 L54.58,294.48 L55.86,294.24 L57.15,294 L58.43,293.75 L59.71,293.49 L60.99,293.22 L62.27,292.96 L63.55,292.68 L64.82,292.4 L66.1,292.12 L67.37,291.82 L68.65,291.53 L69.92,291.22 L71.19,290.92 L72.46,290.6 L73.72,290.28 L74.99,289.96 L76.25,289.63 L77.52,289.29 L78.78,288.95 L80.04,288.61 L81.3,288.26 L82.55,287.9 L83.81,287.53 L85.06,287.17 L86.31,286.79 L87.57,286.41 L88.81,286.03 L90.06,285.64 L91.31,285.24 L92.55,284.84 L93.79,284.43 L95.03,284.02 L96.27,283.61 L97.51,283.18 L98.74,282.75 L99.98,282.32 L101.21,281.88 L102.44,281.44 L103.66,280.99 L104.89,280.53 L106.11,280.07 L107.33,279.61 L108.55,279.14 L109.77,278.66 L110.98,278.18 L112.19,277.69 L113.41,277.2 L114.61,276.7 L115.82,276.2 L117.02,275.69 L118.23,275.18 L119.43,274.66 L120.62,274.14 L121.82,273.61 L123.01,273.07 L124.2,272.53 L125.39,271.99 L126.57,271.44 L127.76,270.88 L128.94,270.32 L130.12,269.76 L131.29,269.19 L132.47,268.61 L133.64,268.03 L134.8,267.45 L135.97,266.86 L137.13,266.26 L138.29,265.66 L139.45,265.05 L140.61,264.44 L141.76,263.83 L142.91,263.21 L144.06,262.58 L145.2,261.95 L146.34,261.31 L147.48,260.67 L148.62,260.03 L149.75,259.37 L150.88,258.72 L152.01,258.06 L153.13,257.39 L154.25,256.72 L155.37,256.05 L156.49,255.37 L157.6,254.68 L158.71,253.99 L159.82,253.3 L160.92,252.6 L162.02,251.89 L163.12,251.18 L164.21,250.47 L165.31,249.75 L166.39,249.03 L167.48,248.3 L168.56,247.56 L169.64,246.83 L170.71,246.08 L171.79,245.34 L172.85,244.58 L173.92,243.83 L174.98,243.07 L176.04,242.3 L177.1,241.53 L178.15,240.76 L179.2,239.98 L180.24,239.19 L181.29,238.4 L182.32,237.61 L183.36,236.81 L184.39,236.01 L185.42,235.2 L186.44,234.39 L187.46,233.58 L188.48,232.76 L189.5,231.93 L190.51,231.1 L191.51,230.27 L192.51,229.43 L193.51,228.59 L194.51,227.74 L195.5,226.89 L196.49,226.04 L197.47,225.18 L198.45,224.31 L199.43,223.44 L200.4,222.57 L201.37,221.7 L202.34,220.81 L203.3,219.93 L204.26,219.04 L205.21,218.15 L206.16,217.25 L207.11,216.35 L208.05,215.44 L208.99,214.53 L209.92,213.62 L210.85,212.7 L211.78,211.78 L212.7,210.85 L213.62,209.92 L214.53,208.99 L215.44,208.05 L216.35,207.11 L217.25,206.16 L218.15,205.21 L219.04,204.26 L219.93,203.3 L220.81,202.34 L221.7,201.37 L222.57,200.4 L223.44,199.43 L224.31,198.45 L225.18,197.47 L226.04,196.49 L226.89,195.5 L227.74,194.51 L228.59,193.51 L229.43,192.51 L230.27,191.51 L231.1,190.51 L231.93,189.5 L232.76,188.48 L233.58,187.46 L234.39,186.44 L235.2,185.42 L236.01,184.39 L236.81,183.36 L237.61,182.32 L238.4,181.29 L239.19,180.24 L239.98,179.2 L240.76,178.15 L241.53,177.1 L242.3,176.04 L243.07,174.98 L243.83,173.92 L244.58,172.85 L245.34,171.79 L246.08,170.71 L246.83,169.64 L247.56,168.56 L248.3,167.48 L249.03,166.39 L249.75,165.31 L250.47,164.21 L251.18,163.12 L251.89,162.02 L252.6,160.92 L253.3,159.82 L253.99,158.71 L254.68,157.6 L255.37,156.49 L256.05,155.37 L256.72,154.25 L257.39,153.13 L258.06,152.01 L258.72,150.88 L259.37,149.75 L260.03,148.62 L260.67,147.48 L261.31,146.34 L261.95,145.2 L262.58,144.06 L263.21,142.91 L263.83,141.76 L264.44,140.61 L265.05,139.45 L265.66,138.29 L266.26,137.13 L266.86,135.97 L267.45,134.8 L268.03,133.64 L268.61,132.47 L269.19,131.29 L269.76,130.12 L270.32,128.94 L270.88,127.76 L271.44,126.57 L271.99,125.39 L272.53,124.2 L273.07,123.01 L273.61,121.82 L274.14,120.62 L274.66,119.43 L275.18,118.23 L275.69,117.02 L276.2,115.82 L276.7,114.61 L277.2,113.41 L277.69,112.19 L278.18,110.98 L278.66,109.77 L279.14,108.55 L279.61,107.33 L280.07,106.11 L280.53,104.89 L280.99,103.66 L281.44,102.44 L281.88,101.21 L282.32,99.98 L282.75,98.74 L283.18,97.51 L283.61,96.27 L284.02,95.03 L284.43,93.79 L284.84,92.55 L285.24,91.31 L285.64,90.06 L286.03,88.81 L286.41,87.57 L286.79,86.31 L287.17,85.06 L287.53,83.81 L287.9,82.55 L288.26,81.3 L288.61,80.04 L288.95,78.78 L289.29,77.52 L289.63,76.25 L289.96,74.99 L290.28,73.72 L290.6,72.46 L290.92,71.19 L291.22,69.92 L291.53,68.65 L291.82,67.37 L292.12,66.1 L292.4,64.82 L292.68,63.55 L292.96,62.27 L293.22,60.99 L293.49,59.71 L293.75,58.43 L294,57.15 L294.24,55.86 L294.48,54.58 L294.72,53.29 L294.95,52.01 L295.17,50.72 L295.39,49.43 L295.61,48.14 L295.81,46.85 L296.01,45.56 L296.21,44.27 L296.4,42.98 L296.59,41.68 L296.76,40.39 L296.94,39.09 L297.11,37.8 L297.27,36.5 L297.42,35.2 L297.57,33.9 L297.72,32.61 L297.86,31.31 L297.99,30.01 L298.12,28.71 L298.24,27.4 L298.36,26.1 L298.47,24.8 L298.58,23.5 L298.68,22.2 L298.77,20.89 L298.86,19.59 L298.94,18.28 L299.02,16.98 L299.09,15.67 L299.16,14.37 L299.21,13.06 L299.27,11.76 L299.32,10.45 L299.36,9.15 L299.4,7.84 L299.43,6.53 L299.45,5.23 L299.47,3.92 L299.49,2.61 L299.5,1.31 L299.5,0 Z" fill="#8fd2f5"/>
<g clip-path="url(#ring)">
<ellipse cx="0" cy="-225" rx="195" ry="330" fill="url(#glow)" transform="rotate(0 0 -225)"/>
<ellipse cx="-194.86" cy="112.5" rx="195" ry="330" fill="url(#glow)" transform="rotate(60 -194.86 112.5)"/>
<ellipse cx="194.86" cy="112.5" rx="195" ry="330" fill="url(#glow)" transform="rotate(-60 194.86 112.5)"/>
</g></g>
<line x1="128.17" y1="-74" x2="256.78" y2="-148.25" stroke="#7d171f" stroke-width="5.4"/>
<line x1="-128.17" y1="-74" x2="-256.78" y2="-148.25" stroke="#7d171f" stroke-width="5.4"/>
<line x1="-0" y1="148" x2="-0" y2="302.5" stroke="#c4191d" stroke-width="5.6"/>
</g>
<g transform="translate(749.9,292) scale(1,0.28581)">
<path d="M150,-0 L150,-0.65 L149.99,-1.31 L149.99,-1.96 L149.98,-2.62 L149.96,-3.27 L149.95,-3.93 L149.93,-4.58 L149.91,-5.23 L149.88,-5.89 L149.86,-6.54 L149.83,-7.2 L149.79,-7.85 L149.76,-8.5 L149.72,-9.16 L149.68,-9.81 L149.63,-10.46 L149.59,-11.12 L149.54,-11.77 L149.48,-12.42 L149.43,-13.07 L149.37,-13.73 L149.31,-14.38 L149.25,-15.03 L149.18,-15.68 L149.11,-16.33 L149.04,-16.98 L148.96,-17.63 L148.88,-18.28 L148.8,-18.93 L148.72,-19.58 L148.63,-20.23 L148.54,-20.88 L148.45,-21.52 L148.35,-22.17 L148.25,-22.82 L148.15,-23.47 L148.05,-24.11 L147.94,-24.76 L147.83,-25.4 L147.72,-26.05 L147.61,-26.69 L147.49,-27.34 L147.37,-27.98 L147.24,-28.62 L147.12,-29.26 L146.99,-29.91 L146.86,-30.55 L146.72,-31.19 L146.58,-31.83 L146.44,-32.47 L146.3,-33.1 L146.16,-33.74 L146.01,-34.38 L145.86,-35.02 L145.7,-35.65 L145.54,-36.29 L145.38,-36.92 L145.22,-37.56 L145.06,-38.19 L144.89,-38.82 L144.72,-39.45 L144.54,-40.09 L144.37,-40.72 L144.19,-41.35 L144.01,-41.97 L143.82,-42.6 L143.64,-43.23 L143.45,-43.86 L143.25,-44.48 L143.06,-45.11 L142.86,-45.73 L142.66,-46.35 L142.45,-46.97 L142.25,-47.6 L142.04,-48.22 L141.83,-48.84 L141.61,-49.45 L141.4,-50.07 L141.18,-50.69 L140.95,-51.3 L140.73,-51.92 L140.5,-52.53 L140.27,-53.14 L140.04,-53.76 L139.8,-54.37 L139.56,-54.98 L139.32,-55.58 L139.08,-56.19 L138.83,-56.8 L138.58,-57.4 L138.33,-58.01 L138.08,-58.61 L137.82,-59.21 L137.56,-59.81 L137.3,-60.41 L137.03,-61.01 L136.76,-61.61 L136.49,-62.2 L136.22,-62.8 L135.95,-63.39 L135.67,-63.99 L135.39,-64.58 L135.1,-65.17 L134.82,-65.76 L134.53,-66.34 L134.24,-66.93 L133.95,-67.51 L133.65,-68.1 L133.35,-68.68 L133.05,-69.26 L132.75,-69.84 L132.44,-70.42 L132.13,-71 L131.82,-71.57 L131.51,-72.15 L131.19,-72.72 L130.87,-73.29 L130.55,-73.86 L130.23,-74.43 L129.9,-75 L129.58,-75.57 L129.24,-76.13 L128.91,-76.69 L128.58,-77.26 L128.24,-77.82 L127.9,-78.37 L127.55,-78.93 L127.21,-79.49 L126.86,-80.04 L126.51,-80.59 L126.16,-81.15 L125.8,-81.7 L125.44,-82.24 L125.08,-82.79 L124.72,-83.34 L124.36,-83.88 L123.99,-84.42 L123.62,-84.96 L123.25,-85.5 L122.87,-86.04 L122.5,-86.57 L122.12,-87.11 L121.74,-87.64 L121.35,-88.17 L120.97,-88.7 L120.58,-89.22 L120.19,-89.75 L119.8,-90.27 L119.4,-90.79 L119,-91.31 L118.6,-91.83 L118.2,-92.35 L117.8,-92.86 L117.39,-93.38 L116.98,-93.89 L116.57,-94.4 L116.16,-94.91 L115.74,-95.41 L115.33,-95.92 L114.91,-96.42 L114.48,-96.92 L114.06,-97.42 L113.63,-97.91 L113.21,-98.41 L112.78,-98.9 L112.34,-99.39 L111.91,-99.88 L111.47,-100.37 L111.03,-100.86 L110.59,-101.34 L110.15,-101.82 L109.7,-102.3 L109.26,-102.78 L108.81,-103.25 L108.35,-103.73 L107.9,-104.2 L107.45,-104.67 L106.99,-105.14 L106.53,-105.6 L106.07,-106.07 L105.6,-106.53 L105.14,-106.99 L104.67,-107.45 L104.2,-107.9 L103.73,-108.35 L103.25,-108.81 L102.78,-109.26 L102.3,-109.7 L101.82,-110.15 L101.34,-110.59 L100.86,-111.03 L100.37,-111.47 L99.88,-111.91 L99.39,-112.34 L98.9,-112.78 L98.41,-113.21 L97.91,-113.63 L97.42,-114.06 L96.92,-114.48 L96.42,-114.91 L95.92,-115.33 L95.41,-115.74 L94.91,-116.16 L94.4,-116.57 L93.89,-116.98 L93.38,-117.39 L92.86,-117.8 L92.35,-118.2 L91.83,-118.6 L91.31,-119 L90.79,-119.4 L90.27,-119.8 L89.75,-120.19 L89.22,-120.58 L88.7,-120.97 L88.17,-121.35 L87.64,-121.74 L87.11,-122.12 L86.57,-122.5 L86.04,-122.87 L85.5,-123.25 L84.96,-123.62 L84.42,-123.99 L83.88,-124.36 L83.34,-124.72 L82.79,-125.08 L82.24,-125.44 L81.7,-125.8 L81.15,-126.16 L80.59,-126.51 L80.04,-126.86 L79.49,-127.21 L78.93,-127.55 L78.37,-127.9 L77.82,-128.24 L77.26,-128.58 L76.69,-128.91 L76.13,-129.24 L75.57,-129.58 L75,-129.9 L74.43,-130.23 L73.86,-130.55 L73.29,-130.87 L72.72,-131.19 L72.15,-131.51 L71.57,-131.82 L71,-132.13 L70.42,-132.44 L69.84,-132.75 L69.26,-133.05 L68.68,-133.35 L68.1,-133.65 L67.51,-133.95 L66.93,-134.24 L66.34,-134.53 L65.76,-134.82 L65.17,-135.1 L64.58,-135.39 L63.99,-135.67 L63.39,-135.95 L62.8,-136.22 L62.2,-136.49 L61.61,-136.76 L61.01,-137.03 L60.41,-137.3 L59.81,-137.56 L59.21,-137.82 L58.61,-138.08 L58.01,-138.33 L57.4,-138.58 L56.8,-138.83 L56.19,-139.08 L55.58,-139.32 L54.98,-139.56 L54.37,-139.8 L53.76,-140.04 L53.14,-140.27 L52.53,-140.5 L51.92,-140.73 L51.3,-140.95 L50.69,-141.18 L50.07,-141.4 L49.45,-141.61 L48.84,-141.83 L48.22,-142.04 L47.6,-142.25 L46.97,-142.45 L46.35,-142.66 L45.73,-142.86 L45.11,-143.06 L44.48,-143.25 L43.86,-143.45 L43.23,-143.64 L42.6,-143.82 L41.97,-144.01 L41.35,-144.19 L40.72,-144.37 L40.09,-144.54 L39.45,-144.72 L38.82,-144.89 L38.19,-145.06 L37.56,-145.22 L36.92,-145.38 L36.29,-145.54 L35.65,-145.7 L35.02,-145.86 L34.38,-146.01 L33.74,-146.16 L33.1,-146.3 L32.47,-146.44 L31.83,-146.58 L31.19,-146.72 L30.55,-146.86 L29.91,-146.99 L29.26,-147.12 L28.62,-147.24 L27.98,-147.37 L27.34,-147.49 L26.69,-147.61 L26.05,-147.72 L25.4,-147.83 L24.76,-147.94 L24.11,-148.05 L23.47,-148.15 L22.82,-148.25 L22.17,-148.35 L21.52,-148.45 L20.88,-148.54 L20.23,-148.63 L19.58,-148.72 L18.93,-148.8 L18.28,-148.88 L17.63,-148.96 L16.98,-149.04 L16.33,-149.11 L15.68,-149.18 L15.03,-149.25 L14.38,-149.31 L13.73,-149.37 L13.07,-149.43 L12.42,-149.48 L11.77,-149.54 L11.12,-149.59 L10.46,-149.63 L9.83,-150.03 L9.21,-150.59 L8.59,-151.23 L7.96,-151.94 L7.33,-152.69 L6.7,-153.49 L6.06,-154.32 L5.42,-155.19 L4.77,-156.08 L4.11,-157 L3.45,-157.95 L2.77,-158.92 L2.09,-159.91 L1.4,-160.92 L0.71,-161.95 L0,-163 L-0.71,-161.95 L-1.4,-160.92 L-2.09,-159.91 L-2.77,-158.92 L-3.45,-157.95 L-4.11,-157 L-4.77,-156.08 L-5.42,-155.19 L-6.06,-154.32 L-6.7,-153.49 L-7.33,-152.69 L-7.96,-151.94 L-8.59,-151.23 L-9.21,-150.59 L-9.83,-150.03 L-10.46,-149.63 L-11.12,-149.59 L-11.77,-149.54 L-12.42,-149.48 L-13.07,-149.43 L-13.73,-149.37 L-14.38,-149.31 L-15.03,-149.25 L-15.68,-149.18 L-16.33,-149.11 L-16.98,-149.04 L-17.63,-148.96 L-18.28,-148.88 L-18.93,-148.8 L-19.58,-148.72 L-20.23,-148.63 L-20.88,-148.54 L-21.52,-148.45 L-22.17,-148.35 L-22.82,-148.25 L-23.47,-148.15 L-24.11,-148.05 L-24.76,-147.94 L-25.4,-147.83 L-26.05,-147.72 L-26.69,-147.61 L-27.34,-147.49 L-27.98,-147.37 L-28.62,-147.24 L-29.26,-147.12 L-29.91,-146.99 L-30.55,-146.86 L-31.19,-146.72 L-31.83,-146.58 L-32.47,-146.44 L-33.1,-146.3 L-33.74,-146.16 L-34.38,-146.01 L-35.02,-145.86 L-35.65,-145.7 L-36.29,-145.54 L-36.92,-145.38 L-37.56,-145.22 L-38.19,-145.06 L-38.82,-144.89 L-39.45,-144.72 L-40.09,-144.54 L-40.72,-144.37 L-41.35,-144.19 L-41.97,-144.01 L-42.6,-143.82 L-43.23,-143.64 L-43.86,-143.45 L-44.48,-143.25 L-45.11,-143.06 L-45.73,-142.86 L-46.35,-142.66 L-46.97,-142.45 L-47.6,-142.25 L-48.22,-142.04 L-48.84,-141.83 L-49.45,-141.61 L-50.07,-141.4 L-50.69,-141.18 L-51.3,-140.95 L-51.92,-140.73 L-52.53,-140.5 L-53.14,-140.27 L-53.76,-140.04 L-54.37,-139.8 L-54.98,-139.56 L-55.58,-139.32 L-56.19,-139.08 L-56.8,-138.83 L-57.4,-138.58 L-58.01,-138.33 L-58.61,-138.08 L-59.21,-137.82 L-59.81,-137.56 L-60.41,-137.3 L-61.01,-137.03 L-61.61,-136.76 L-62.2,-136.49 L-62.8,-136.22 L-63.39,-135.95 L-63.99,-135.67 L-64.58,-135.39 L-65.17,-135.1 L-65.76,-134.82 L-66.34,-134.53 L-66.93,-134.24 L-67.51,-133.95 L-68.1,-133.65 L-68.68,-133.35 L-69.26,-133.05 L-69.84,-132.75 L-70.42,-132.44 L-71,-132.13 L-71.57,-131.82 L-72.15,-131.51 L-72.72,-131.19 L-73.29,-130.87 L-73.86,-130.55 L-74.43,-130.23 L-75,-129.9 L-75.57,-129.58 L-76.13,-129.24 L-76.69,-128.91 L-77.26,-128.58 L-77.82,-128.24 L-78.37,-127.9 L-78.93,-127.55 L-79.49,-127.21 L-80.04,-126.86 L-80.59,-126.51 L-81.15,-126.16 L-81.7,-125.8 L-82.24,-125.44 L-82.79,-125.08 L-83.34,-124.72 L-83.88,-124.36 L-84.42,-123.99 L-84.96,-123.62 L-85.5,-123.25 L-86.04,-122.87 L-86.57,-122.5 L-87.11,-122.12 L-87.64,-121.74 L-88.17,-121.35 L-88.7,-120.97 L-89.22,-120.58 L-89.75,-120.19 L-90.27,-119.8 L-90.79,-119.4 L-91.31,-119 L-91.83,-118.6 L-92.35,-118.2 L-92.86,-117.8 L-93.38,-117.39 L-93.89,-116.98 L-94.4,-116.57 L-94.91,-116.16 L-95.41,-115.74 L-95.92,-115.33 L-96.42,-114.91 L-96.92,-114.48 L-97.42,-114.06 L-97.91,-113.63 L-98.41,-113.21 L-98.9,-112.78 L-99.39,-112.34 L-99.88,-111.91 L-100.37,-111.47 L-100.86,-111.03 L-101.34,-110.59 L-101.82,-110.15 L-102.3,-109.7 L-102.78,-109.26 L-103.25,-108.81 L-103.73,-108.35 L-104.2,-107.9 L-104.67,-107.45 L-105.14,-106.99 L-105.6,-106.53 L-106.07,-106.07 L-106.53,-105.6 L-106.99,-105.14 L-107.45,-104.67 L-107.9,-104.2 L-108.35,-103.73 L-108.81,-103.25 L-109.26,-102.78 L-109.7,-102.3 L-110.15,-101.82 L-110.59,-101.34 L-111.03,-100.86 L-111.47,-100.37 L-111.91,-99.88 L-112.34,-99.39 L-112.78,-98.9 L-113.21,-98.41 L-113.63,-97.91 L-114.06,-97.42 L-114.48,-96.92 L-114.91,-96.42 L-115.33,-95.92 L-115.74,-95.41 L-116.16,-94.91 L-116.57,-94.4 L-116.98,-93.89 L-117.39,-93.38 L-117.8,-92.86 L-118.2,-92.35 L-118.6,-91.83 L-119,-91.31 L-119.4,-90.79 L-119.8,-90.27 L-120.19,-89.75 L-120.58,-89.22 L-120.97,-88.7 L-121.35,-88.17 L-121.74,-87.64 L-122.12,-87.11 L-122.5,-86.57 L-122.87,-86.04 L-123.25,-85.5 L-123.62,-84.96 L-123.99,-84.42 L-124.36,-83.88 L-124.72,-83.34 L-125.08,-82.79 L-125.44,-82.24 L-125.8,-81.7 L-126.16,-81.15 L-126.51,-80.59 L-126.86,-80.04 L-127.21,-79.49 L-127.55,-78.93 L-127.9,-78.37 L-128.24,-77.82 L-128.58,-77.26 L-128.91,-76.69 L-129.24,-76.13 L-129.58,-75.57 L-129.9,-75 L-130.23,-74.43 L-130.55,-73.86 L-130.87,-73.29 L-131.19,-72.72 L-131.51,-72.15 L-131.82,-71.57 L-132.13,-71 L-132.44,-70.42 L-132.75,-69.84 L-133.05,-69.26 L-133.35,-68.68 L-133.65,-68.1 L-133.95,-67.51 L-134.24,-66.93 L-134.53,-66.34 L-134.82,-65.76 L-135.1,-65.17 L-135.39,-64.58 L-135.67,-63.99 L-135.95,-63.39 L-136.22,-62.8 L-136.49,-62.2 L-136.76,-61.61 L-137.03,-61.01 L-137.3,-60.41 L-137.56,-59.81 L-137.82,-59.21 L-138.08,-58.61 L-138.33,-58.01 L-138.58,-57.4 L-138.83,-56.8 L-139.08,-56.19 L-139.32,-55.58 L-139.56,-54.98 L-139.8,-54.37 L-140.04,-53.76 L-140.27,-53.14 L-140.5,-52.53 L-140.73,-51.92 L-140.95,-51.3 L-141.18,-50.69 L-141.4,-50.07 L-141.61,-49.45 L-141.83,-48.84 L-142.04,-48.22 L-142.25,-47.6 L-142.45,-46.97 L-142.66,-46.35 L-142.86,-45.73 L-143.06,-45.11 L-143.25,-44.48 L-143.45,-43.86 L-143.64,-43.23 L-143.82,-42.6 L-144.01,-41.97 L-144.19,-41.35 L-144.37,-40.72 L-144.54,-40.09 L-144.72,-39.45 L-144.89,-38.82 L-145.06,-38.19 L-145.22,-37.56 L-145.38,-36.92 L-145.54,-36.29 L-145.7,-35.65 L-145.86,-35.02 L-146.01,-34.38 L-146.16,-33.74 L-146.3,-33.1 L-146.44,-32.47 L-146.58,-31.83 L-146.72,-31.19 L-146.86,-30.55 L-146.99,-29.91 L-147.12,-29.26 L-147.24,-28.62 L-147.37,-27.98 L-147.49,-27.34 L-147.61,-26.69 L-147.72,-26.05 L-147.83,-25.4 L-147.94,-24.76 L-148.05,-24.11 L-148.15,-23.47 L-148.25,-22.82 L-148.35,-22.17 L-148.45,-21.52 L-148.54,-20.88 L-148.63,-20.23 L-148.72,-19.58 L-148.8,-18.93 L-148.88,-18.28 L-148.96,-17.63 L-149.04,-16.98 L-149.11,-16.33 L-149.18,-15.68 L-149.25,-15.03 L-149.31,-14.38 L-149.37,-13.73 L-149.43,-13.07 L-149.48,-12.42 L-149.54,-11.77 L-149.59,-11.12 L-149.63,-10.46 L-149.68,-9.81 L-149.72,-9.16 L-149.76,-8.5 L-149.79,-7.85 L-149.83,-7.2 L-149.86,-6.54 L-149.88,-5.89 L-149.91,-5.23 L-149.93,-4.58 L-149.95,-3.93 L-149.96,-3.27 L-149.98,-2.62 L-149.99,-1.96 L-149.99,-1.31 L-150,-0.65 L-150,-0 L-150,0.65 L-149.99,1.31 L-149.99,1.96 L-149.98,2.62 L-149.96,3.27 L-149.95,3.93 L-149.93,4.58 L-149.91,5.23 L-149.88,5.89 L-149.86,6.54 L-149.83,7.2 L-149.79,7.85 L-149.76,8.5 L-149.72,9.16 L-149.68,9.81 L-149.63,10.46 L-149.59,11.12 L-149.54,11.77 L-149.48,12.42 L-149.43,13.07 L-149.37,13.73 L-149.31,14.38 L-149.25,15.03 L-149.18,15.68 L-149.11,16.33 L-149.04,16.98 L-148.96,17.63 L-148.88,18.28 L-148.8,18.93 L-148.72,19.58 L-148.63,20.23 L-148.54,20.88 L-148.45,21.52 L-148.35,22.17 L-148.25,22.82 L-148.15,23.47 L-148.05,24.11 L-147.94,24.76 L-147.83,25.4 L-147.72,26.05 L-147.61,26.69 L-147.49,27.34 L-147.37,27.98 L-147.24,28.62 L-147.12,29.26 L-146.99,29.91 L-146.86,30.55 L-146.72,31.19 L-146.58,31.83 L-146.44,32.47 L-146.3,33.1 L-146.16,33.74 L-146.01,34.38 L-145.86,35.02 L-145.7,35.65 L-145.54,36.29 L-145.38,36.92 L-145.22,37.56 L-145.06,38.19 L-144.89,38.82 L-144.72,39.45 L-144.54,40.09 L-144.37,40.72 L-144.19,41.35 L-144.01,41.97 L-143.82,42.6 L-143.64,43.23 L-143.45,43.86 L-143.25,44.48 L-143.06,45.11 L-142.86,45.73 L-142.66,46.35 L-142.45,46.97 L-142.25,47.6 L-142.04,48.22 L-141.83,48.84 L-141.61,49.45 L-141.4,50.07 L-141.18,50.69 L-140.95,51.3 L-140.73,51.92 L-140.5,52.53 L-140.27,53.14 L-140.04,53.76 L-139.8,54.37 L-139.56,54.98 L-139.32,55.58 L-139.08,56.19 L-138.83,56.8 L-138.58,57.4 L-138.33,58.01 L-138.08,58.61 L-137.82,59.21 L-137.56,59.81 L-137.3,60.41 L-137.03,61.01 L-136.76,61.61 L-136.49,62.2 L-136.22,62.8 L-135.95,63.39 L-135.67,63.99 L-135.39,64.58 L-135.1,65.17 L-134.82,65.76 L-134.85,66.5 L-135.02,67.32 L-135.26,68.18 L-135.56,69.07 L-135.9,69.99 L-136.27,70.94 L-136.68,71.91 L-137.1,72.9 L-137.55,73.91 L-138.02,74.94 L-138.51,75.99 L-139.02,77.06 L-139.53,78.14 L-140.06,79.24 L-140.61,80.36 L-141.16,81.5 L-139.9,81.59 L-138.66,81.68 L-137.44,81.77 L-136.24,81.86 L-135.07,81.96 L-133.91,82.06 L-132.79,82.17 L-131.68,82.29 L-130.61,82.41 L-129.57,82.55 L-128.57,82.7 L-127.6,82.86 L-126.68,83.05 L-125.81,83.27 L-125.01,83.53 L-124.36,83.88 L-123.99,84.42 L-123.62,84.96 L-123.25,85.5 L-122.87,86.04 L-122.5,86.57 L-122.12,87.11 L-121.74,87.64 L-121.35,88.17 L-120.97,88.7 L-120.58,89.22 L-120.19,89.75 L-119.8,90.27 L-119.4,90.79 L-119,91.31 L-118.6,91.83 L-118.2,92.35 L-117.8,92.86 L-117.39,93.38 L-116.98,93.89 L-116.57,94.4 L-116.16,94.91 L-115.74,95.41 L-115.33,95.92 L-114.91,96.42 L-114.48,96.92 L-114.06,97.42 L-113.63,97.91 L-113.21,98.41 L-112.78,98.9 L-112.34,99.39 L-111.91,99.88 L-111.47,100.37 L-111.03,100.86 L-110.59,101.34 L-110.15,101.82 L-109.7,102.3 L-109.26,102.78 L-108.81,103.25 L-108.35,103.73 L-107.9,104.2 L-107.45,104.67 L-106.99,105.14 L-106.53,105.6 L-106.07,106.07 L-105.6,106.53 L-105.14,106.99 L-104.67,107.45 L-104.2,107.9 L-103.73,108.35 L-103.25,108.81 L-102.78,109.26 L-102.3,109.7 L-101.82,110.15 L-101.34,110.59 L-100.86,111.03 L-100.37,111.47 L-99.88,111.91 L-99.39,112.34 L-98.9,112.78 L-98.41,113.21 L-97.91,113.63 L-97.42,114.06 L-96.92,114.48 L-96.42,114.91 L-95.92,115.33 L-95.41,115.74 L-94.91,116.16 L-94.4,116.57 L-93.89,116.98 L-93.38,117.39 L-92.86,117.8 L-92.35,118.2 L-91.83,118.6 L-91.31,119 L-90.79,119.4 L-90.27,119.8 L-89.75,120.19 L-89.22,120.58 L-88.7,120.97 L-88.17,121.35 L-87.64,121.74 L-87.11,122.12 L-86.57,122.5 L-86.04,122.87 L-85.5,123.25 L-84.96,123.62 L-84.42,123.99 L-83.88,124.36 L-83.34,124.72 L-82.79,125.08 L-82.24,125.44 L-81.7,125.8 L-81.15,126.16 L-80.59,126.51 L-80.04,126.86 L-79.49,127.21 L-78.93,127.55 L-78.37,127.9 L-77.82,128.24 L-77.26,128.58 L-76.69,128.91 L-76.13,129.24 L-75.57,129.58 L-75,129.9 L-74.43,130.23 L-73.86,130.55 L-73.29,130.87 L-72.72,131.19 L-72.15,131.51 L-71.57,131.82 L-71,132.13 L-70.42,132.44 L-69.84,132.75 L-69.26,133.05 L-68.68,133.35 L-68.1,133.65 L-67.51,133.95 L-66.93,134.24 L-66.34,134.53 L-65.76,134.82 L-65.17,135.1 L-64.58,135.39 L-63.99,135.67 L-63.39,135.95 L-62.8,136.22 L-62.2,136.49 L-61.61,136.76 L-61.01,137.03 L-60.41,137.3 L-59.81,137.56 L-59.21,137.82 L-58.61,138.08 L-58.01,138.33 L-57.4,138.58 L-56.8,138.83 L-56.19,139.08 L-55.58,139.32 L-54.98,139.56 L-54.37,139.8 L-53.76,140.04 L-53.14,140.27 L-52.53,140.5 L-51.92,140.73 L-51.3,140.95 L-50.69,141.18 L-50.07,141.4 L-49.45,141.61 L-48.84,141.83 L-48.22,142.04 L-47.6,142.25 L-46.97,142.45 L-46.35,142.66 L-45.73,142.86 L-45.11,143.06 L-44.48,143.25 L-43.86,143.45 L-43.23,143.64 L-42.6,143.82 L-41.97,144.01 L-41.35,144.19 L-40.72,144.37 L-40.09,144.54 L-39.45,144.72 L-38.82,144.89 L-38.19,145.06 L-37.56,145.22 L-36.92,145.38 L-36.29,145.54 L-35.65,145.7 L-35.02,145.86 L-34.38,146.01 L-33.74,146.16 L-33.1,146.3 L-32.47,146.44 L-31.83,146.58 L-31.19,146.72 L-30.55,146.86 L-29.91,146.99 L-29.26,147.12 L-28.62,147.24 L-27.98,147.37 L-27.34,147.49 L-26.69,147.61 L-26.05,147.72 L-25.4,147.83 L-24.76,147.94 L-24.11,148.05 L-23.47,148.15 L-22.82,148.25 L-22.17,148.35 L-21.52,148.45 L-20.88,148.54 L-20.23,148.63 L-19.58,148.72 L-18.93,148.8 L-18.28,148.88 L-17.63,148.96 L-16.98,149.04 L-16.33,149.11 L-15.68,149.18 L-15.03,149.25 L-14.38,149.31 L-13.73,149.37 L-13.07,149.43 L-12.42,149.48 L-11.77,149.54 L-11.12,149.59 L-10.46,149.63 L-9.81,149.68 L-9.16,149.72 L-8.5,149.76 L-7.85,149.79 L-7.2,149.83 L-6.54,149.86 L-5.89,149.88 L-5.23,149.91 L-4.58,149.93 L-3.93,149.95 L-3.27,149.96 L-2.62,149.98 L-1.96,149.99 L-1.31,149.99 L-0.65,150 L-0,150 L0.65,150 L1.31,149.99 L1.96,149.99 L2.62,149.98 L3.27,149.96 L3.93,149.95 L4.58,149.93 L5.23,149.91 L5.89,149.88 L6.54,149.86 L7.2,149.83 L7.85,149.79 L8.5,149.76 L9.16,149.72 L9.81,149.68 L10.46,149.63 L11.12,149.59 L11.77,149.54 L12.42,149.48 L13.07,149.43 L13.73,149.37 L14.38,149.31 L15.03,149.25 L15.68,149.18 L16.33,149.11 L16.98,149.04 L17.63,148.96 L18.28,148.88 L18.93,148.8 L19.58,148.72 L20.23,148.63 L20.88,148.54 L21.52,148.45 L22.17,148.35 L22.82,148.25 L23.47,148.15 L24.11,148.05 L24.76,147.94 L25.4,147.83 L26.05,147.72 L26.69,147.61 L27.34,147.49 L27.98,147.37 L28.62,147.24 L29.26,147.12 L29.91,146.99 L30.55,146.86 L31.19,146.72 L31.83,146.58 L32.47,146.44 L33.1,146.3 L33.74,146.16 L34.38,146.01 L35.02,145.86 L35.65,145.7 L36.29,145.54 L36.92,145.38 L37.56,145.22 L38.19,145.06 L38.82,144.89 L39.45,144.72 L40.09,144.54 L40.72,144.37 L41.35,144.19 L41.97,144.01 L42.6,143.82 L43.23,143.64 L43.86,143.45 L44.48,143.25 L45.11,143.06 L45.73,142.86 L46.35,142.66 L46.97,142.45 L47.6,142.25 L48.22,142.04 L48.84,141.83 L49.45,141.61 L50.07,141.4 L50.69,141.18 L51.3,140.95 L51.92,140.73 L52.53,140.5 L53.14,140.27 L53.76,140.04 L54.37,139.8 L54.98,139.56 L55.58,139.32 L56.19,139.08 L56.8,138.83 L57.4,138.58 L58.01,138.33 L58.61,138.08 L59.21,137.82 L59.81,137.56 L60.41,137.3 L61.01,137.03 L61.61,136.76 L62.2,136.49 L62.8,136.22 L63.39,135.95 L63.99,135.67 L64.58,135.39 L65.17,135.1 L65.76,134.82 L66.34,134.53 L66.93,134.24 L67.51,133.95 L68.1,133.65 L68.68,133.35 L69.26,133.05 L69.84,132.75 L70.42,132.44 L71,132.13 L71.57,131.82 L72.15,131.51 L72.72,131.19 L73.29,130.87 L73.86,130.55 L74.43,130.23 L75,129.9 L75.57,129.58 L76.13,129.24 L76.69,128.91 L77.26,128.58 L77.82,128.24 L78.37,127.9 L78.93,127.55 L79.49,127.21 L80.04,126.86 L80.59,126.51 L81.15,126.16 L81.7,125.8 L82.24,125.44 L82.79,125.08 L83.34,124.72 L83.88,124.36 L84.42,123.99 L84.96,123.62 L85.5,123.25 L86.04,122.87 L86.57,122.5 L87.11,122.12 L87.64,121.74 L88.17,121.35 L88.7,120.97 L89.22,120.58 L89.75,120.19 L90.27,119.8 L90.79,119.4 L91.31,119 L91.83,118.6 L92.35,118.2 L92.86,117.8 L93.38,117.39 L93.89,116.98 L94.4,116.57 L94.91,116.16 L95.41,115.74 L95.92,115.33 L96.42,114.91 L96.92,114.48 L97.42,114.06 L97.91,113.63 L98.41,113.21 L98.9,112.78 L99.39,112.34 L99.88,111.91 L100.37,111.47 L100.86,111.03 L101.34,110.59 L101.82,110.15 L102.3,109.7 L102.78,109.26 L103.25,108.81 L103.73,108.35 L104.2,107.9 L104.67,107.45 L105.14,106.99 L105.6,106.53 L106.07,106.07 L106.53,105.6 L106.99,105.14 L107.45,104.67 L107.9,104.2 L108.35,103.73 L108.81,103.25 L109.26,102.78 L109.7,102.3 L110.15,101.82 L110.59,101.34 L111.03,100.86 L111.47,100.37 L111.91,99.88 L112.34,99.39 L112.78,98.9 L113.21,98.41 L113.63,97.91 L114.06,97.42 L114.48,96.92 L114.91,96.42 L115.33,95.92 L115.74,95.41 L116.16,94.91 L116.57,94.4 L116.98,93.89 L117.39,93.38 L117.8,92.86 L118.2,92.35 L118.6,91.83 L119,91.31 L119.4,90.79 L119.8,90.27 L120.19,89.75 L120.58,89.22 L120.97,88.7 L121.35,88.17 L121.74,87.64 L122.12,87.11 L122.5,86.57 L122.87,86.04 L123.25,85.5 L123.62,84.96 L123.99,84.42 L124.36,83.88 L125.01,83.53 L125.81,83.27 L126.68,83.05 L127.6,82.86 L128.57,82.7 L129.57,82.55 L130.61,82.41 L131.68,82.29 L132.79,82.17 L133.91,82.06 L135.07,81.96 L136.24,81.86 L137.44,81.77 L138.66,81.68 L139.9,81.59 L141.16,81.5 L140.61,80.36 L140.06,79.24 L139.53,78.14 L139.02,77.06 L138.51,75.99 L138.02,74.94 L137.55,73.91 L137.1,72.9 L136.68,71.91 L136.27,70.94 L135.9,69.99 L135.56,69.07 L135.26,68.18 L135.02,67.32 L134.85,66.5 L134.82,65.76 L135.1,65.17 L135.39,64.58 L135.67,63.99 L135.95,63.39 L136.22,62.8 L136.49,62.2 L136.76,61.61 L137.03,61.01 L137.3,60.41 L137.56,59.81 L137.82,59.21 L138.08,58.61 L138.33,58.01 L138.58,57.4 L138.83,56.8 L139.08,56.19 L139.32,55.58 L139.56,54.98 L139.8,54.37 L140.04,53.76 L140.27,53.14 L140.5,52.53 L140.73,51.92 L140.95,51.3 L141.18,50.69 L141.4,50.07 L141.61,49.45 L141.83,48.84 L142.04,48.22 L142.25,47.6 L142.45,46.97 L142.66,46.35 L142.86,45.73 L143.06,45.11 L143.25,44.48 L143.45,43.86 L143.64,43.23 L143.82,42.6 L144.01,41.97 L144.19,41.35 L144.37,40.72 L144.54,40.09 L144.72,39.45 L144.89,38.82 L145.06,38.19 L145.22,37.56 L145.38,36.92 L145.54,36.29 L145.7,35.65 L145.86,35.02 L146.01,34.38 L146.16,33.74 L146.3,33.1 L146.44,32.47 L146.58,31.83 L146.72,31.19 L146.86,30.55 L146.99,29.91 L147.12,29.26 L147.24,28.62 L147.37,27.98 L147.49,27.34 L147.61,26.69 L147.72,26.05 L147.83,25.4 L147.94,24.76 L148.05,24.11 L148.15,23.47 L148.25,22.82 L148.35,22.17 L148.45,21.52 L148.54,20.88 L148.63,20.23 L148.72,19.58 L148.8,18.93 L148.88,18.28 L148.96,17.63 L149.04,16.98 L149.11,16.33 L149.18,15.68 L149.25,15.03 L149.31,14.38 L149.37,13.73 L149.43,13.07 L149.48,12.42 L149.54,11.77 L149.59,11.12 L149.63,10.46 L149.68,9.81 L149.72,9.16 L149.76,8.5 L149.79,7.85 L149.83,7.2 L149.86,6.54 L149.88,5.89 L149.91,5.23 L149.93,4.58 L149.95,3.93 L149.96,3.27 L149.98,2.62 L149.99,1.96 L149.99,1.31 L150,0.65 L150,0 Z" fill="#a3161b" transform="scale(1.01765,1.03380)"/>
<path d="M150,-0 L150,-0.65 L149.99,-1.31 L149.99,-1.96 L149.98,-2.62 L149.96,-3.27 L149.95,-3.93 L149.93,-4.58 L149.91,-5.23 L149.88,-5.89 L149.86,-6.54 L149.83,-7.2 L149.79,-7.85 L149.76,-8.5 L149.72,-9.16 L149.68,-9.81 L149.63,-10.46 L149.59,-11.12 L149.54,-11.77 L149.48,-12.42 L149.43,-13.07 L149.37,-13.73 L149.31,-14.38 L149.25,-15.03 L149.18,-15.68 L149.11,-16.33 L149.04,-16.98 L148.96,-17.63 L148.88,-18.28 L148.8,-18.93 L148.72,-19.58 L148.63,-20.23 L148.54,-20.88 L148.45,-21.52 L148.35,-22.17 L148.25,-22.82 L148.15,-23.47 L148.05,-24.11 L147.94,-24.76 L147.83,-25.4 L147.72,-26.05 L147.61,-26.69 L147.49,-27.34 L147.37,-27.98 L147.24,-28.62 L147.12,-29.26 L146.99,-29.91 L146.86,-30.55 L146.72,-31.19 L146.58,-31.83 L146.44,-32.47 L146.3,-33.1 L146.16,-33.74 L146.01,-34.38 L145.86,-35.02 L145.7,-35.65 L145.54,-36.29 L145.38,-36.92 L145.22,-37.56 L145.06,-38.19 L144.89,-38.82 L144.72,-39.45 L144.54,-40.09 L144.37,-40.72 L144.19,-41.35 L144.01,-41.97 L143.82,-42.6 L143.64,-43.23 L143.45,-43.86 L143.25,-44.48 L143.06,-45.11 L142.86,-45.73 L142.66,-46.35 L142.45,-46.97 L142.25,-47.6 L142.04,-48.22 L141.83,-48.84 L141.61,-49.45 L141.4,-50.07 L141.18,-50.69 L140.95,-51.3 L140.73,-51.92 L140.5,-52.53 L140.27,-53.14 L140.04,-53.76 L139.8,-54.37 L139.56,-54.98 L139.32,-55.58 L139.08,-56.19 L138.83,-56.8 L138.58,-57.4 L138.33,-58.01 L138.08,-58.61 L137.82,-59.21 L137.56,-59.81 L137.3,-60.41 L137.03,-61.01 L136.76,-61.61 L136.49,-62.2 L136.22,-62.8 L135.95,-63.39 L135.67,-63.99 L135.39,-64.58 L135.1,-65.17 L134.82,-65.76 L134.53,-66.34 L134.24,-66.93 L133.95,-67.51 L133.65,-68.1 L133.35,-68.68 L133.05,-69.26 L132.75,-69.84 L132.44,-70.42 L132.13,-71 L131.82,-71.57 L131.51,-72.15 L131.19,-72.72 L130.87,-73.29 L130.55,-73.86 L130.23,-74.43 L129.9,-75 L129.58,-75.57 L129.24,-76.13 L128.91,-76.69 L128.58,-77.26 L128.24,-77.82 L127.9,-78.37 L127.55,-78.93 L127.21,-79.49 L126.86,-80.04 L126.51,-80.59 L126.16,-81.15 L125.8,-81.7 L125.44,-82.24 L125.08,-82.79 L124.72,-83.34 L124.36,-83.88 L123.99,-84.42 L123.62,-84.96 L123.25,-85.5 L122.87,-86.04 L122.5,-86.57 L122.12,-87.11 L121.74,-87.64 L121.35,-88.17 L120.97,-88.7 L120.58,-89.22 L120.19,-89.75 L119.8,-90.27 L119.4,-90.79 L119,-91.31 L118.6,-91.83 L118.2,-92.35 L117.8,-92.86 L117.39,-93.38 L116.98,-93.89 L116.57,-94.4 L116.16,-94.91 L115.74,-95.41 L115.33,-95.92 L114.91,-96.42 L114.48,-96.92 L114.06,-97.42 L113.63,-97.91 L113.21,-98.41 L112.78,-98.9 L112.34,-99.39 L111.91,-99.88 L111.47,-100.37 L111.03,-100.86 L110.59,-101.34 L110.15,-101.82 L109.7,-102.3 L109.26,-102.78 L108.81,-103.25 L108.35,-103.73 L107.9,-104.2 L107.45,-104.67 L106.99,-105.14 L106.53,-105.6 L106.07,-106.07 L105.6,-106.53 L105.14,-106.99 L104.67,-107.45 L104.2,-107.9 L103.73,-108.35 L103.25,-108.81 L102.78,-109.26 L102.3,-109.7 L101.82,-110.15 L101.34,-110.59 L100.86,-111.03 L100.37,-111.47 L99.88,-111.91 L99.39,-112.34 L98.9,-112.78 L98.41,-113.21 L97.91,-113.63 L97.42,-114.06 L96.92,-114.48 L96.42,-114.91 L95.92,-115.33 L95.41,-115.74 L94.91,-116.16 L94.4,-116.57 L93.89,-116.98 L93.38,-117.39 L92.86,-117.8 L92.35,-118.2 L91.83,-118.6 L91.31,-119 L90.79,-119.4 L90.27,-119.8 L89.75,-120.19 L89.22,-120.58 L88.7,-120.97 L88.17,-121.35 L87.64,-121.74 L87.11,-122.12 L86.57,-122.5 L86.04,-122.87 L85.5,-123.25 L84.96,-123.62 L84.42,-123.99 L83.88,-124.36 L83.34,-124.72 L82.79,-125.08 L82.24,-125.44 L81.7,-125.8 L81.15,-126.16 L80.59,-126.51 L80.04,-126.86 L79.49,-127.21 L78.93,-127.55 L78.37,-127.9 L77.82,-128.24 L77.26,-128.58 L76.69,-128.91 L76.13,-129.24 L75.57,-129.58 L75,-129.9 L74.43,-130.23 L73.86,-130.55 L73.29,-130.87 L72.72,-131.19 L72.15,-131.51 L71.57,-131.82 L71,-132.13 L70.42,-132.44 L69.84,-132.75 L69.26,-133.05 L68.68,-133.35 L68.1,-133.65 L67.51,-133.95 L66.93,-134.24 L66.34,-134.53 L65.76,-134.82 L65.17,-135.1 L64.58,-135.39 L63.99,-135.67 L63.39,-135.95 L62.8,-136.22 L62.2,-136.49 L61.61,-136.76 L61.01,-137.03 L60.41,-137.3 L59.81,-137.56 L59.21,-137.82 L58.61,-138.08 L58.01,-138.33 L57.4,-138.58 L56.8,-138.83 L56.19,-139.08 L55.58,-139.32 L54.98,-139.56 L54.37,-139.8 L53.76,-140.04 L53.14,-140.27 L52.53,-140.5 L51.92,-140.73 L51.3,-140.95 L50.69,-141.18 L50.07,-141.4 L49.45,-141.61 L48.84,-141.83 L48.22,-142.04 L47.6,-142.25 L46.97,-142.45 L46.35,-142.66 L45.73,-142.86 L45.11,-143.06 L44.48,-143.25 L43.86,-143.45 L43.23,-143.64 L42.6,-143.82 L41.97,-144.01 L41.35,-144.19 L40.72,-144.37 L40.09,-144.54 L39.45,-144.72 L38.82,-144.89 L38.19,-145.06 L37.56,-145.22 L36.92,-145.38 L36.29,-145.54 L35.65,-145.7 L35.02,-145.86 L34.38,-146.01 L33.74,-146.16 L33.1,-146.3 L32.47,-146.44 L31.83,-146.58 L31.19,-146.72 L30.55,-146.86 L29.91,-146.99 L29.26,-147.12 L28.62,-147.24 L27.98,-147.37 L27.34,-147.49 L26.69,-147.61 L26.05,-147.72 L25.4,-147.83 L24.76,-147.94 L24.11,-148.05 L23.47,-148.15 L22.82,-148.25 L22.17,-148.35 L21.52,-148.45 L20.88,-148.54 L20.23,-148.63 L19.58,-148.72 L18.93,-148.8 L18.28,-148.88 L17.63,-148.96 L16.98,-149.04 L16.33,-149.11 L15.68,-149.18 L15.03,-149.25 L14.38,-149.31 L13.73,-149.37 L13.07,-149.43 L12.42,-149.48 L11.77,-149.54 L11.12,-149.59 L10.46,-149.63 L9.83,-150.03 L9.21,-150.59 L8.59,-151.23 L7.96,-151.94 L7.33,-152.69 L6.7,-153.49 L6.06,-154.32 L5.42,-155.19 L4.77,-156.08 L4.11,-157 L3.45,-157.95 L2.77,-158.92 L2.09,-159.91 L1.4,-160.92 L0.71,-161.95 L0,-163 L-0.71,-161.95 L-1.4,-160.92 L-2.09,-159.91 L-2.77,-158.92 L-3.45,-157.95 L-4.11,-157 L-4.77,-156.08 L-5.42,-155.19 L-6.06,-154.32 L-6.7,-153.49 L-7.33,-152.69 L-7.96,-151.94 L-8.59,-151.23 L-9.21,-150.59 L-9.83,-150.03 L-10.46,-149.63 L-11.12,-149.59 L-11.77,-149.54 L-12.42,-149.48 L-13.07,-149.43 L-13.73,-149.37 L-14.38,-149.31 L-15.03,-149.25 L-15.68,-149.18 L-16.33,-149.11 L-16.98,-149.04 L-17.63,-148.96 L-18.28,-148.88 L-18.93,-148.8 L-19.58,-148.72 L-20.23,-148.63 L-20.88,-148.54 L-21.52,-148.45 L-22.17,-148.35 L-22.82,-148.25 L-23.47,-148.15 L-24.11,-148.05 L-24.76,-147.94 L-25.4,-147.83 L-26.05,-147.72 L-26.69,-147.61 L-27.34,-147.49 L-27.98,-147.37 L-28.62,-147.24 L-29.26,-147.12 L-29.91,-146.99 L-30.55,-146.86 L-31.19,-146.72 L-31.83,-146.58 L-32.47,-146.44 L-33.1,-146.3 L-33.74,-146.16 L-34.38,-146.01 L-35.02,-145.86 L-35.65,-145.7 L-36.29,-145.54 L-36.92,-145.38 L-37.56,-145.22 L-38.19,-145.06 L-38.82,-144.89 L-39.45,-144.72 L-40.09,-144.54 L-40.72,-144.37 L-41.35,-144.19 L-41.97,-144.01 L-42.6,-143.82 L-43.23,-143.64 L-43.86,-143.45 L-44.48,-143.25 L-45.11,-143.06 L-45.73,-142.86 L-46.35,-142.66 L-46.97,-142.45 L-47.6,-142.25 L-48.22,-142.04 L-48.84,-141.83 L-49.45,-141.61 L-50.07,-141.4 L-50.69,-141.18 L-51.3,-140.95 L-51.92,-140.73 L-52.53,-140.5 L-53.14,-140.27 L-53.76,-140.04 L-54.37,-139.8 L-54.98,-139.56 L-55.58,-139.32 L-56.19,-139.08 L-56.8,-138.83 L-57.4,-138.58 L-58.01,-138.33 L-58.61,-138.08 L-59.21,-137.82 L-59.81,-137.56 L-60.41,-137.3 L-61.01,-137.03 L-61.61,-136.76 L-62.2,-136.49 L-62.8,-136.22 L-63.39,-135.95 L-63.99,-135.67 L-64.58,-135.39 L-65.17,-135.1 L-65.76,-134.82 L-66.34,-134.53 L-66.93,-134.24 L-67.51,-133.95 L-68.1,-133.65 L-68.68,-133.35 L-69.26,-133.05 L-69.84,-132.75 L-70.42,-132.44 L-71,-132.13 L-71.57,-131.82 L-72.15,-131.51 L-72.72,-131.19 L-73.29,-130.87 L-73.86,-130.55 L-74.43,-130.23 L-75,-129.9 L-75.57,-129.58 L-76.13,-129.24 L-76.69,-128.91 L-77.26,-128.58 L-77.82,-128.24 L-78.37,-127.9 L-78.93,-127.55 L-79.49,-127.21 L-80.04,-126.86 L-80.59,-126.51 L-81.15,-126.16 L-81.7,-125.8 L-82.24,-125.44 L-82.79,-125.08 L-83.34,-124.72 L-83.88,-124.36 L-84.42,-123.99 L-84.96,-123.62 L-85.5,-123.25 L-86.04,-122.87 L-86.57,-122.5 L-87.11,-122.12 L-87.64,-121.74 L-88.17,-121.35 L-88.7,-120.97 L-89.22,-120.58 L-89.75,-120.19 L-90.27,-119.8 L-90.79,-119.4 L-91.31,-119 L-91.83,-118.6 L-92.35,-118.2 L-92.86,-117.8 L-93.38,-117.39 L-93.89,-116.98 L-94.4,-116.57 L-94.91,-116.16 L-95.41,-115.74 L-95.92,-115.33 L-96.42,-114.91 L-96.92,-114.48 L-97.42,-114.06 L-97.91,-113.63 L-98.41,-113.21 L-98.9,-112.78 L-99.39,-112.34 L-99.88,-111.91 L-100.37,-111.47 L-100.86,-111.03 L-101.34,-110.59 L-101.82,-110.15 L-102.3,-109.7 L-102.78,-109.26 L-103.25,-108.81 L-103.73,-108.35 L-104.2,-107.9 L-104.67,-107.45 L-105.14,-106.99 L-105.6,-106.53 L-106.07,-106.07 L-106.53,-105.6 L-106.99,-105.14 L-107.45,-104.67 L-107.9,-104.2 L-108.35,-103.73 L-108.81,-103.25 L-109.26,-102.78 L-109.7,-102.3 L-110.15,-101.82 L-110.59,-101.34 L-111.03,-100.86 L-111.47,-100.37 L-111.91,-99.88 L-112.34,-99.39 L-112.78,-98.9 L-113.21,-98.41 L-113.63,-97.91 L-114.06,-97.42 L-114.48,-96.92 L-114.91,-96.42 L-115.33,-95.92 L-115.74,-95.41 L-116.16,-94.91 L-116.57,-94.4 L-116.98,-93.89 L-117.39,-93.38 L-117.8,-92.86 L-118.2,-92.35 L-118.6,-91.83 L-119,-91.31 L-119.4,-90.79 L-119.8,-90.27 L-120.19,-89.75 L-120.58,-89.22 L-120.97,-88.7 L-121.35,-88.17 L-121.74,-87.64 L-122.12,-87.11 L-122.5,-86.57 L-122.87,-86.04 L-123.25,-85.5 L-123.62,-84.96 L-123.99,-84.42 L-124.36,-83.88 L-124.72,-83.34 L-125.08,-82.79 L-125.44,-82.24 L-125.8,-81.7 L-126.16,-81.15 L-126.51,-80.59 L-126.86,-80.04 L-127.21,-79.49 L-127.55,-78.93 L-127.9,-78.37 L-128.24,-77.82 L-128.58,-77.26 L-128.91,-76.69 L-129.24,-76.13 L-129.58,-75.57 L-129.9,-75 L-130.23,-74.43 L-130.55,-73.86 L-130.87,-73.29 L-131.19,-72.72 L-131.51,-72.15 L-131.82,-71.57 L-132.13,-71 L-132.44,-70.42 L-132.75,-69.84 L-133.05,-69.26 L-133.35,-68.68 L-133.65,-68.1 L-133.95,-67.51 L-134.24,-66.93 L-134.53,-66.34 L-134.82,-65.76 L-135.1,-65.17 L-135.39,-64.58 L-135.67,-63.99 L-135.95,-63.39 L-136.22,-62.8 L-136.49,-62.2 L-136.76,-61.61 L-137.03,-61.01 L-137.3,-60.41 L-137.56,-59.81 L-137.82,-59.21 L-138.08,-58.61 L-138.33,-58.01 L-138.58,-57.4 L-138.83,-56.8 L-139.08,-56.19 L-139.32,-55.58 L-139.56,-54.98 L-139.8,-54.37 L-140.04,-53.76 L-140.27,-53.14 L-140.5,-52.53 L-140.73,-51.92 L-140.95,-51.3 L-141.18,-50.69 L-141.4,-50.07 L-141.61,-49.45 L-141.83,-48.84 L-142.04,-48.22 L-142.25,-47.6 L-142.45,-46.97 L-142.66,-46.35 L-142.86,-45.73 L-143.06,-45.11 L-143.25,-44.48 L-143.45,-43.86 L-143.64,-43.23 L-143.82,-42.6 L-144.01,-41.97 L-144.19,-41.35 L-144.37,-40.72 L-144.54,-40.09 L-144.72,-39.45 L-144.89,-38.82 L-145.06,-38.19 L-145.22,-37.56 L-145.38,-36.92 L-145.54,-36.29 L-145.7,-35.65 L-145.86,-35.02 L-146.01,-34.38 L-146.16,-33.74 L-146.3,-33.1 L-146.44,-32.47 L-146.58,-31.83 L-146.72,-31.19 L-146.86,-30.55 L-146.99,-29.91 L-147.12,-29.26 L-147.24,-28.62 L-147.37,-27.98 L-147.49,-27.34 L-147.61,-26.69 L-147.72,-26.05 L-147.83,-25.4 L-147.94,-24.76 L-148.05,-24.11 L-148.15,-23.47 L-148.25,-22.82 L-148.35,-22.17 L-148.45,-21.52 L-148.54,-20.88 L-148.63,-20.23 L-148.72,-19.58 L-148.8,-18.93 L-148.88,-18.28 L-148.96,-17.63 L-149.04,-16.98 L-149.11,-16.33 L-149.18,-15.68 L-149.25,-15.03 L-149.31,-14.38 L-149.37,-13.73 L-149.43,-13.07 L-149.48,-12.42 L-149.54,-11.77 L-149.59,-11.12 L-149.63,-10.46 L-149.68,-9.81 L-149.72,-9.16 L-149.76,-8.5 L-149.79,-7.85 L-149.83,-7.2 L-149.86,-6.54 L-149.88,-5.89 L-149.91,-5.23 L-149.93,-4.58 L-149.95,-3.93 L-149.96,-3.27 L-149.98,-2.62 L-149.99,-1.96 L-149.99,-1.31 L-150,-0.65 L-150,-0 L-150,0.65 L-149.99,1.31 L-149.99,1.96 L-149.98,2.62 L-149.96,3.27 L-149.95,3.93 L-149.93,4.58 L-149.91,5.23 L-149.88,5.89 L-149.86,6.54 L-149.83,7.2 L-149.79,7.85 L-149.76,8.5 L-149.72,9.16 L-149.68,9.81 L-149.63,10.46 L-149.59,11.12 L-149.54,11.77 L-149.48,12.42 L-149.43,13.07 L-149.37,13.73 L-149.31,14.38 L-149.25,15.03 L-149.18,15.68 L-149.11,16.33 L-149.04,16.98 L-148.96,17.63 L-148.88,18.28 L-148.8,18.93 L-148.72,19.58 L-148.63,20.23 L-148.54,20.88 L-148.45,21.52 L-148.35,22.17 L-148.25,22.82 L-148.15,23.47 L-148.05,24.11 L-147.94,24.76 L-147.83,25.4 L-147.72,26.05 L-147.61,26.69 L-147.49,27.34 L-147.37,27.98 L-147.24,28.62 L-147.12,29.26 L-146.99,29.91 L-146.86,30.55 L-146.72,31.19 L-146.58,31.83 L-146.44,32.47 L-146.3,33.1 L-146.16,33.74 L-146.01,34.38 L-145.86,35.02 L-145.7,35.65 L-145.54,36.29 L-145.38,36.92 L-145.22,37.56 L-145.06,38.19 L-144.89,38.82 L-144.72,39.45 L-144.54,40.09 L-144.37,40.72 L-144.19,41.35 L-144.01,41.97 L-143.82,42.6 L-143.64,43.23 L-143.45,43.86 L-143.25,44.48 L-143.06,45.11 L-142.86,45.73 L-142.66,46.35 L-142.45,46.97 L-142.25,47.6 L-142.04,48.22 L-141.83,48.84 L-141.61,49.45 L-141.4,50.07 L-141.18,50.69 L-140.95,51.3 L-140.73,51.92 L-140.5,52.53 L-140.27,53.14 L-140.04,53.76 L-139.8,54.37 L-139.56,54.98 L-139.32,55.58 L-139.08,56.19 L-138.83,56.8 L-138.58,57.4 L-138.33,58.01 L-138.08,58.61 L-137.82,59.21 L-137.56,59.81 L-137.3,60.41 L-137.03,61.01 L-136.76,61.61 L-136.49,62.2 L-136.22,62.8 L-135.95,63.39 L-135.67,63.99 L-135.39,64.58 L-135.1,65.17 L-134.82,65.76 L-134.85,66.5 L-135.02,67.32 L-135.26,68.18 L-135.56,69.07 L-135.9,69.99 L-136.27,70.94 L-136.68,71.91 L-137.1,72.9 L-137.55,73.91 L-138.02,74.94 L-138.51,75.99 L-139.02,77.06 L-139.53,78.14 L-140.06,79.24 L-140.61,80.36 L-141.16,81.5 L-139.9,81.59 L-138.66,81.68 L-137.44,81.77 L-136.24,81.86 L-135.07,81.96 L-133.91,82.06 L-132.79,82.17 L-131.68,82.29 L-130.61,82.41 L-129.57,82.55 L-128.57,82.7 L-127.6,82.86 L-126.68,83.05 L-125.81,83.27 L-125.01,83.53 L-124.36,83.88 L-123.99,84.42 L-123.62,84.96 L-123.25,85.5 L-122.87,86.04 L-122.5,86.57 L-122.12,87.11 L-121.74,87.64 L-121.35,88.17 L-120.97,88.7 L-120.58,89.22 L-120.19,89.75 L-119.8,90.27 L-119.4,90.79 L-119,91.31 L-118.6,91.83 L-118.2,92.35 L-117.8,92.86 L-117.39,93.38 L-116.98,93.89 L-116.57,94.4 L-116.16,94.91 L-115.74,95.41 L-115.33,95.92 L-114.91,96.42 L-114.48,96.92 L-114.06,97.42 L-113.63,97.91 L-113.21,98.41 L-112.78,98.9 L-112.34,99.39 L-111.91,99.88 L-111.47,100.37 L-111.03,100.86 L-110.59,101.34 L-110.15,101.82 L-109.7,102.3 L-109.26,102.78 L-108.81,103.25 L-108.35,103.73 L-107.9,104.2 L-107.45,104.67 L-106.99,105.14 L-106.53,105.6 L-106.07,106.07 L-105.6,106.53 L-105.14,106.99 L-104.67,107.45 L-104.2,107.9 L-103.73,108.35 L-103.25,108.81 L-102.78,109.26 L-102.3,109.7 L-101.82,110.15 L-101.34,110.59 L-100.86,111.03 L-100.37,111.47 L-99.88,111.91 L-99.39,112.34 L-98.9,112.78 L-98.41,113.21 L-97.91,113.63 L-97.42,114.06 L-96.92,114.48 L-96.42,114.91 L-95.92,115.33 L-95.41,115.74 L-94.91,116.16 L-94.4,116.57 L-93.89,116.98 L-93.38,117.39 L-92.86,117.8 L-92.35,118.2 L-91.83,118.6 L-91.31,119 L-90.79,119.4 L-90.27,119.8 L-89.75,120.19 L-89.22,120.58 L-88.7,120.97 L-88.17,121.35 L-87.64,121.74 L-87.11,122.12 L-86.57,122.5 L-86.04,122.87 L-85.5,123.25 L-84.96,123.62 L-84.42,123.99 L-83.88,124.36 L-83.34,124.72 L-82.79,125.08 L-82.24,125.44 L-81.7,125.8 L-81.15,126.16 L-80.59,126.51 L-80.04,126.86 L-79.49,127.21 L-78.93,127.55 L-78.37,127.9 L-77.82,128.24 L-77.26,128.58 L-76.69,128.91 L-76.13,129.24 L-75.57,129.58 L-75,129.9 L-74.43,130.23 L-73.86,130.55 L-73.29,130.87 L-72.72,131.19 L-72.15,131.51 L-71.57,131.82 L-71,132.13 L-70.42,132.44 L-69.84,132.75 L-69.26,133.05 L-68.68,133.35 L-68.1,133.65 L-67.51,133.95 L-66.93,134.24 L-66.34,134.53 L-65.76,134.82 L-65.17,135.1 L-64.58,135.39 L-63.99,135.67 L-63.39,135.95 L-62.8,136.22 L-62.2,136.49 L-61.61,136.76 L-61.01,137.03 L-60.41,137.3 L-59.81,137.56 L-59.21,137.82 L-58.61,138.08 L-58.01,138.33 L-57.4,138.58 L-56.8,138.83 L-56.19,139.08 L-55.58,139.32 L-54.98,139.56 L-54.37,139.8 L-53.76,140.04 L-53.14,140.27 L-52.53,140.5 L-51.92,140.73 L-51.3,140.95 L-50.69,141.18 L-50.07,141.4 L-49.45,141.61 L-48.84,141.83 L-48.22,142.04 L-47.6,142.25 L-46.97,142.45 L-46.35,142.66 L-45.73,142.86 L-45.11,143.06 L-44.48,143.25 L-43.86,143.45 L-43.23,143.64 L-42.6,143.82 L-41.97,144.01 L-41.35,144.19 L-40.72,144.37 L-40.09,144.54 L-39.45,144.72 L-38.82,144.89 L-38.19,145.06 L-37.56,145.22 L-36.92,145.38 L-36.29,145.54 L-35.65,145.7 L-35.02,145.86 L-34.38,146.01 L-33.74,146.16 L-33.1,146.3 L-32.47,146.44 L-31.83,146.58 L-31.19,146.72 L-30.55,146.86 L-29.91,146.99 L-29.26,147.12 L-28.62,147.24 L-27.98,147.37 L-27.34,147.49 L-26.69,147.61 L-26.05,147.72 L-25.4,147.83 L-24.76,147.94 L-24.11,148.05 L-23.47,148.15 L-22.82,148.25 L-22.17,148.35 L-21.52,148.45 L-20.88,148.54 L-20.23,148.63 L-19.58,148.72 L-18.93,148.8 L-18.28,148.88 L-17.63,148.96 L-16.98,149.04 L-16.33,149.11 L-15.68,149.18 L-15.03,149.25 L-14.38,149.31 L-13.73,149.37 L-13.07,149.43 L-12.42,149.48 L-11.77,149.54 L-11.12,149.59 L-10.46,149.63 L-9.81,149.68 L-9.16,149.72 L-8.5,149.76 L-7.85,149.79 L-7.2,149.83 L-6.54,149.86 L-5.89,149.88 L-5.23,149.91 L-4.58,149.93 L-3.93,149.95 L-3.27,149.96 L-2.62,149.98 L-1.96,149.99 L-1.31,149.99 L-0.65,150 L-0,150 L0.65,150 L1.31,149.99 L1.96,149.99 L2.62,149.98 L3.27,149.96 L3.93,149.95 L4.58,149.93 L5.23,149.91 L5.89,149.88 L6.54,149.86 L7.2,149.83 L7.85,149.79 L8.5,149.76 L9.16,149.72 L9.81,149.68 L10.46,149.63 L11.12,149.59 L11.77,149.54 L12.42,149.48 L13.07,149.43 L13.73,149.37 L14.38,149.31 L15.03,149.25 L15.68,149.18 L16.33,149.11 L16.98,149.04 L17.63,148.96 L18.28,148.88 L18.93,148.8 L19.58,148.72 L20.23,148.63 L20.88,148.54 L21.52,148.45 L22.17,148.35 L22.82,148.25 L23.47,148.15 L24.11,148.05 L24.76,147.94 L25.4,147.83 L26.05,147.72 L26.69,147.61 L27.34,147.49 L27.98,147.37 L28.62,147.24 L29.26,147.12 L29.91,146.99 L30.55,146.86 L31.19,146.72 L31.83,146.58 L32.47,146.44 L33.1,146.3 L33.74,146.16 L34.38,146.01 L35.02,145.86 L35.65,145.7 L36.29,145.54 L36.92,145.38 L37.56,145.22 L38.19,145.06 L38.82,144.89 L39.45,144.72 L40.09,144.54 L40.72,144.37 L41.35,144.19 L41.97,144.01 L42.6,143.82 L43.23,143.64 L43.86,143.45 L44.48,143.25 L45.11,143.06 L45.73,142.86 L46.35,142.66 L46.97,142.45 L47.6,142.25 L48.22,142.04 L48.84,141.83 L49.45,141.61 L50.07,141.4 L50.69,141.18 L51.3,140.95 L51.92,140.73 L52.53,140.5 L53.14,140.27 L53.76,140.04 L54.37,139.8 L54.98,139.56 L55.58,139.32 L56.19,139.08 L56.8,138.83 L57.4,138.58 L58.01,138.33 L58.61,138.08 L59.21,137.82 L59.81,137.56 L60.41,137.3 L61.01,137.03 L61.61,136.76 L62.2,136.49 L62.8,136.22 L63.39,135.95 L63.99,135.67 L64.58,135.39 L65.17,135.1 L65.76,134.82 L66.34,134.53 L66.93,134.24 L67.51,133.95 L68.1,133.65 L68.68,133.35 L69.26,133.05 L69.84,132.75 L70.42,132.44 L71,132.13 L71.57,131.82 L72.15,131.51 L72.72,131.19 L73.29,130.87 L73.86,130.55 L74.43,130.23 L75,129.9 L75.57,129.58 L76.13,129.24 L76.69,128.91 L77.26,128.58 L77.82,128.24 L78.37,127.9 L78.93,127.55 L79.49,127.21 L80.04,126.86 L80.59,126.51 L81.15,126.16 L81.7,125.8 L82.24,125.44 L82.79,125.08 L83.34,124.72 L83.88,124.36 L84.42,123.99 L84.96,123.62 L85.5,123.25 L86.04,122.87 L86.57,122.5 L87.11,122.12 L87.64,121.74 L88.17,121.35 L88.7,120.97 L89.22,120.58 L89.75,120.19 L90.27,119.8 L90.79,119.4 L91.31,119 L91.83,118.6 L92.35,118.2 L92.86,117.8 L93.38,117.39 L93.89,116.98 L94.4,116.57 L94.91,116.16 L95.41,115.74 L95.92,115.33 L96.42,114.91 L96.92,114.48 L97.42,114.06 L97.91,113.63 L98.41,113.21 L98.9,112.78 L99.39,112.34 L99.88,111.91 L100.37,111.47 L100.86,111.03 L101.34,110.59 L101.82,110.15 L102.3,109.7 L102.78,109.26 L103.25,108.81 L103.73,108.35 L104.2,107.9 L104.67,107.45 L105.14,106.99 L105.6,106.53 L106.07,106.07 L106.53,105.6 L106.99,105.14 L107.45,104.67 L107.9,104.2 L108.35,103.73 L108.81,103.25 L109.26,102.78 L109.7,102.3 L110.15,101.82 L110.59,101.34 L111.03,100.86 L111.47,100.37 L111.91,99.88 L112.34,99.39 L112.78,98.9 L113.21,98.41 L113.63,97.91 L114.06,97.42 L114.48,96.92 L114.91,96.42 L115.33,95.92 L115.74,95.41 L116.16,94.91 L116.57,94.4 L116.98,93.89 L117.39,93.38 L117.8,92.86 L118.2,92.35 L118.6,91.83 L119,91.31 L119.4,90.79 L119.8,90.27 L120.19,89.75 L120.58,89.22 L120.97,88.7 L121.35,88.17 L121.74,87.64 L122.12,87.11 L122.5,86.57 L122.87,86.04 L123.25,85.5 L123.62,84.96 L123.99,84.42 L124.36,83.88 L125.01,83.53 L125.81,83.27 L126.68,83.05 L127.6,82.86 L128.57,82.7 L129.57,82.55 L130.61,82.41 L131.68,82.29 L132.79,82.17 L133.91,82.06 L135.07,81.96 L136.24,81.86 L137.44,81.77 L138.66,81.68 L139.9,81.59 L141.16,81.5 L140.61,80.36 L140.06,79.24 L139.53,78.14 L139.02,77.06 L138.51,75.99 L138.02,74.94 L137.55,73.91 L137.1,72.9 L136.68,71.91 L136.27,70.94 L135.9,69.99 L135.56,69.07 L135.26,68.18 L135.02,67.32 L134.85,66.5 L134.82,65.76 L135.1,65.17 L135.39,64.58 L135.67,63.99 L135.95,63.39 L136.22,62.8 L136.49,62.2 L136.76,61.61 L137.03,61.01 L137.3,60.41 L137.56,59.81 L137.82,59.21 L138.08,58.61 L138.33,58.01 L138.58,57.4 L138.83,56.8 L139.08,56.19 L139.32,55.58 L139.56,54.98 L139.8,54.37 L140.04,53.76 L140.27,53.14 L140.5,52.53 L140.73,51.92 L140.95,51.3 L141.18,50.69 L141.4,50.07 L141.61,49.45 L141.83,48.84 L142.04,48.22 L142.25,47.6 L142.45,46.97 L142.66,46.35 L142.86,45.73 L143.06,45.11 L143.25,44.48 L143.45,43.86 L143.64,43.23 L143.82,42.6 L144.01,41.97 L144.19,41.35 L144.37,40.72 L144.54,40.09 L144.72,39.45 L144.89,38.82 L145.06,38.19 L145.22,37.56 L145.38,36.92 L145.54,36.29 L145.7,35.65 L145.86,35.02 L146.01,34.38 L146.16,33.74 L146.3,33.1 L146.44,32.47 L146.58,31.83 L146.72,31.19 L146.86,30.55 L146.99,29.91 L147.12,29.26 L147.24,28.62 L147.37,27.98 L147.49,27.34 L147.61,26.69 L147.72,26.05 L147.83,25.4 L147.94,24.76 L148.05,24.11 L148.15,23.47 L148.25,22.82 L148.35,22.17 L148.45,21.52 L148.54,20.88 L148.63,20.23 L148.72,19.58 L148.8,18.93 L148.88,18.28 L148.96,17.63 L149.04,16.98 L149.11,16.33 L149.18,15.68 L149.25,15.03 L149.31,14.38 L149.37,13.73 L149.43,13.07 L149.48,12.42 L149.54,11.77 L149.59,11.12 L149.63,10.46 L149.68,9.81 L149.72,9.16 L149.76,8.5 L149.79,7.85 L149.83,7.2 L149.86,6.54 L149.88,5.89 L149.91,5.23 L149.93,4.58 L149.95,3.93 L149.96,3.27 L149.98,2.62 L149.99,1.96 L149.99,1.31 L150,0.65 L150,0 Z" fill="url(#core)" transform="scale(0.98235,0.96620)"/>
</g>
<g transform="translate(750,292) scale(1,0.292)">
<text transform="translate(-33.89,-212.31) rotate(-5.44) scale(0.77,1)" text-anchor="middle" font-size="37" fill="#0b6bb3" stroke="#0b6bb3" stroke-width="0.6">E</text><text transform="translate(-15.81,-214.42) rotate(-2.53) scale(0.77,1)" text-anchor="middle" font-size="37" fill="#0b6bb3" stroke="#0b6bb3" stroke-width="0.6">q</text><text transform="translate(1.58,-214.99) rotate(0.25) scale(0.77,1)" text-anchor="middle" font-size="37" fill="#0b6bb3" stroke="#0b6bb3" stroke-width="0.6">u</text><text transform="translate(14.23,-214.53) rotate(2.28) scale(0.77,1)" text-anchor="middle" font-size="37" fill="#0b6bb3" stroke="#0b6bb3" stroke-width="0.6">i</text><text transform="translate(22.9,-213.78) rotate(3.67) scale(0.77,1)" text-anchor="middle" font-size="37" fill="#0b6bb3" stroke="#0b6bb3" stroke-width="0.6">t</text><text transform="translate(35.44,-212.06) rotate(5.69) scale(0.77,1)" text-anchor="middle" font-size="37" fill="#0b6bb3" stroke="#0b6bb3" stroke-width="0.6">y</text>
<text transform="translate(-219.18,50.86) rotate(76.94) scale(0.87,1)" text-anchor="middle" font-size="36" fill="#0b6bb3" stroke="#0b6bb3" stroke-width="0.5">A</text><text transform="translate(-215.14,65.89) rotate(72.97) scale(0.87,1)" text-anchor="middle" font-size="36" fill="#0b6bb3" stroke="#0b6bb3" stroke-width="0.5">l</text><text transform="translate(-212.16,74.93) rotate(70.55) scale(0.87,1)" text-anchor="middle" font-size="36" fill="#0b6bb3" stroke="#0b6bb3" stroke-width="0.5">t</text><text transform="translate(-207.15,87.83) rotate(67.02) scale(0.87,1)" text-anchor="middle" font-size="36" fill="#0b6bb3" stroke="#0b6bb3" stroke-width="0.5">e</text><text transform="translate(-200.96,101.19) rotate(63.27) scale(0.87,1)" text-anchor="middle" font-size="36" fill="#0b6bb3" stroke="#0b6bb3" stroke-width="0.5">r</text><text transform="translate(-193.49,114.84) rotate(59.31) scale(0.87,1)" text-anchor="middle" font-size="36" fill="#0b6bb3" stroke="#0b6bb3" stroke-width="0.5">n</text><text transform="translate(-183.59,130.08) rotate(54.68) scale(0.87,1)" text-anchor="middle" font-size="36" fill="#0b6bb3" stroke="#0b6bb3" stroke-width="0.5">a</text><text transform="translate(-175.24,141.12) rotate(51.16) scale(0.87,1)" text-anchor="middle" font-size="36" fill="#0b6bb3" stroke="#0b6bb3" stroke-width="0.5">t</text><text transform="translate(-169.12,148.4) rotate(48.73) scale(0.87,1)" text-anchor="middle" font-size="36" fill="#0b6bb3" stroke="#0b6bb3" stroke-width="0.5">i</text><text transform="translate(-160.28,157.91) rotate(45.43) scale(0.87,1)" text-anchor="middle" font-size="36" fill="#0b6bb3" stroke="#0b6bb3" stroke-width="0.5">v</text><text transform="translate(-147.66,169.77) rotate(41.02) scale(0.87,1)" text-anchor="middle" font-size="36" fill="#0b6bb3" stroke="#0b6bb3" stroke-width="0.5">e</text><text transform="translate(-134.17,180.62) rotate(36.61) scale(0.87,1)" text-anchor="middle" font-size="36" fill="#0b6bb3" stroke="#0b6bb3" stroke-width="0.5">s</text>
<text transform="translate(125.65,189.05) rotate(-33.61) scale(0.87,1)" text-anchor="middle" font-size="36" fill="#0b6bb3" stroke="#0b6bb3" stroke-width="0.5">F</text><text transform="translate(136.97,181.02) rotate(-37.11) scale(0.87,1)" text-anchor="middle" font-size="36" fill="#0b6bb3" stroke="#0b6bb3" stroke-width="0.5">i</text><text transform="translate(147.13,172.87) rotate(-40.4) scale(0.87,1)" text-anchor="middle" font-size="36" fill="#0b6bb3" stroke="#0b6bb3" stroke-width="0.5">x</text><text transform="translate(159.92,161.11) rotate(-44.79) scale(0.87,1)" text-anchor="middle" font-size="36" fill="#0b6bb3" stroke="#0b6bb3" stroke-width="0.5">e</text><text transform="translate(172.33,147.76) rotate(-49.39) scale(0.87,1)" text-anchor="middle" font-size="36" fill="#0b6bb3" stroke="#0b6bb3" stroke-width="0.5">d</text><text transform="translate(186.14,129.93) rotate(-55.08) scale(0.87,1)" text-anchor="middle" font-size="36" fill="#0b6bb3" stroke="#0b6bb3" stroke-width="0.5">i</text><text transform="translate(193.73,118.31) rotate(-58.59) scale(0.87,1)" text-anchor="middle" font-size="36" fill="#0b6bb3" stroke="#0b6bb3" stroke-width="0.5">n</text><text transform="translate(202.6,102.38) rotate(-63.19) scale(0.87,1)" text-anchor="middle" font-size="36" fill="#0b6bb3" stroke="#0b6bb3" stroke-width="0.5">c</text><text transform="translate(210.16,85.8) rotate(-67.79) scale(0.87,1)" text-anchor="middle" font-size="36" fill="#0b6bb3" stroke="#0b6bb3" stroke-width="0.5">o</text><text transform="translate(217.88,63.68) rotate(-73.71) scale(0.87,1)" text-anchor="middle" font-size="36" fill="#0b6bb3" stroke="#0b6bb3" stroke-width="0.5">m</text><text transform="translate(223.13,41.73) rotate(-79.41) scale(0.87,1)" text-anchor="middle" font-size="36" fill="#0b6bb3" stroke="#0b6bb3" stroke-width="0.5">e</text>
<text transform="translate(-147.22,335.09) rotate(23.72) scale(0.69,1)" text-anchor="middle" font-size="46" fill="#0b6bb3" stroke="#0b6bb3" stroke-width="0.6">M</text><text transform="translate(-125.83,343.69) rotate(20.11) scale(0.69,1)" text-anchor="middle" font-size="46" fill="#0b6bb3" stroke="#0b6bb3" stroke-width="0.6">u</text><text transform="translate(-112.42,348.31) rotate(17.89) scale(0.69,1)" text-anchor="middle" font-size="46" fill="#0b6bb3" stroke="#0b6bb3" stroke-width="0.6">l</text><text transform="translate(-103.1,351.18) rotate(16.36) scale(0.69,1)" text-anchor="middle" font-size="46" fill="#0b6bb3" stroke="#0b6bb3" stroke-width="0.6">t</text><text transform="translate(-93.71,353.8) rotate(14.83) scale(0.69,1)" text-anchor="middle" font-size="46" fill="#0b6bb3" stroke="#0b6bb3" stroke-width="0.6">i</text><text transform="translate(-84.25,356.17) rotate(13.31) scale(0.69,1)" text-anchor="middle" font-size="46" fill="#0b6bb3" stroke="#0b6bb3" stroke-width="0.6">-</text><text transform="translate(-67.77,359.67) rotate(10.67) scale(0.69,1)" text-anchor="middle" font-size="46" fill="#0b6bb3" stroke="#0b6bb3" stroke-width="0.6">A</text><text transform="translate(-47.61,362.89) rotate(7.48) scale(0.69,1)" text-anchor="middle" font-size="46" fill="#0b6bb3" stroke="#0b6bb3" stroke-width="0.6">s</text><text transform="translate(-29.96,364.77) rotate(4.69) scale(0.69,1)" text-anchor="middle" font-size="46" fill="#0b6bb3" stroke="#0b6bb3" stroke-width="0.6">s</text><text transform="translate(-12.23,365.8) rotate(1.91) scale(0.69,1)" text-anchor="middle" font-size="46" fill="#0b6bb3" stroke="#0b6bb3" stroke-width="0.6">e</text><text transform="translate(1.97,365.99) rotate(-0.31) scale(0.69,1)" text-anchor="middle" font-size="46" fill="#0b6bb3" stroke="#0b6bb3" stroke-width="0.6">t</text><text transform="translate(26.78,365.02) rotate(-4.2) scale(0.69,1)" text-anchor="middle" font-size="46" fill="#0b6bb3" stroke="#0b6bb3" stroke-width="0.6">S</text><text transform="translate(47.08,362.96) rotate(-7.39) scale(0.69,1)" text-anchor="middle" font-size="46" fill="#0b6bb3" stroke="#0b6bb3" stroke-width="0.6">o</text><text transform="translate(61.11,360.86) rotate(-9.61) scale(0.69,1)" text-anchor="middle" font-size="46" fill="#0b6bb3" stroke="#0b6bb3" stroke-width="0.6">l</text><text transform="translate(75.05,358.22) rotate(-11.83) scale(0.69,1)" text-anchor="middle" font-size="46" fill="#0b6bb3" stroke="#0b6bb3" stroke-width="0.6">u</text><text transform="translate(89.73,354.83) rotate(-14.19) scale(0.69,1)" text-anchor="middle" font-size="46" fill="#0b6bb3" stroke="#0b6bb3" stroke-width="0.6">t</text><text transform="translate(99.15,352.31) rotate(-15.72) scale(0.69,1)" text-anchor="middle" font-size="46" fill="#0b6bb3" stroke="#0b6bb3" stroke-width="0.6">i</text><text transform="translate(112.73,348.21) rotate(-17.94) scale(0.69,1)" text-anchor="middle" font-size="46" fill="#0b6bb3" stroke="#0b6bb3" stroke-width="0.6">o</text><text transform="translate(131.12,341.71) rotate(-20.99) scale(0.69,1)" text-anchor="middle" font-size="46" fill="#0b6bb3" stroke="#0b6bb3" stroke-width="0.6">n</text><text transform="translate(148.34,334.59) rotate(-23.91) scale(0.69,1)" text-anchor="middle" font-size="46" fill="#0b6bb3" stroke="#0b6bb3" stroke-width="0.6">s</text>
<text transform="translate(-3,4.11) scale(0.67,1)" text-anchor="middle" font-size="44" fill="#fff">Responsible</text>
<text transform="translate(2,42.12) scale(0.71,1)" text-anchor="middle" font-size="44" fill="#fff">Investment</text>
</g>
<text transform="translate(613.98,511.55) rotate(6.12) scale(0.88,1)" text-anchor="middle" font-size="34.5" fill="#fff" stroke="#fff" stroke-width="0.7">T</text><text transform="translate(632.38,513.37) rotate(5.21) scale(0.88,1)" text-anchor="middle" font-size="34.5" fill="#fff" stroke="#fff" stroke-width="0.7">h</text><text transform="translate(650.8,514.91) rotate(4.34) scale(0.88,1)" text-anchor="middle" font-size="34.5" fill="#fff" stroke="#fff" stroke-width="0.7">o</text><text transform="translate(669.24,516.17) rotate(3.49) scale(0.88,1)" text-anchor="middle" font-size="34.5" fill="#fff" stroke="#fff" stroke-width="0.7">u</text><text transform="translate(687.69,517.16) rotate(2.67) scale(0.88,1)" text-anchor="middle" font-size="34.5" fill="#fff" stroke="#fff" stroke-width="0.7">g</text><text transform="translate(706.16,517.89) rotate(1.86) scale(0.88,1)" text-anchor="middle" font-size="34.5" fill="#fff" stroke="#fff" stroke-width="0.7">h</text><text transform="translate(720.44,518.28) rotate(1.25) scale(0.88,1)" text-anchor="middle" font-size="34.5" fill="#fff" stroke="#fff" stroke-width="0.7">t</text><text transform="translate(743.12,518.58) rotate(0.28) scale(0.88,1)" text-anchor="middle" font-size="34.5" fill="#fff" stroke="#fff" stroke-width="0.7">L</text><text transform="translate(760.78,518.55) rotate(-0.47) scale(0.88,1)" text-anchor="middle" font-size="34.5" fill="#fff" stroke="#fff" stroke-width="0.7">e</text><text transform="translate(777.6,518.31) rotate(-1.19) scale(0.88,1)" text-anchor="middle" font-size="34.5" fill="#fff" stroke="#fff" stroke-width="0.7">a</text><text transform="translate(795.25,517.83) rotate(-1.95) scale(0.88,1)" text-anchor="middle" font-size="34.5" fill="#fff" stroke="#fff" stroke-width="0.7">d</text><text transform="translate(812.89,517.11) rotate(-2.72) scale(0.88,1)" text-anchor="middle" font-size="34.5" fill="#fff" stroke="#fff" stroke-width="0.7">e</text><text transform="translate(827.17,516.35) rotate(-3.35) scale(0.88,1)" text-anchor="middle" font-size="34.5" fill="#fff" stroke="#fff" stroke-width="0.7">r</text><text transform="translate(841.45,515.44) rotate(-4) scale(0.88,1)" text-anchor="middle" font-size="34.5" fill="#fff" stroke="#fff" stroke-width="0.7">s</text><text transform="translate(859.05,514.08) rotate(-4.82) scale(0.88,1)" text-anchor="middle" font-size="34.5" fill="#fff" stroke="#fff" stroke-width="0.7">h</text><text transform="translate(872.44,512.87) rotate(-5.47) scale(0.88,1)" text-anchor="middle" font-size="34.5" fill="#fff" stroke="#fff" stroke-width="0.7">i</text><text transform="translate(885.82,511.52) rotate(-6.14) scale(0.88,1)" text-anchor="middle" font-size="34.5" fill="#fff" stroke="#fff" stroke-width="0.7">p</text>
<text transform="translate(631.79,644.22) rotate(5.24) scale(0.89,1)" text-anchor="middle" font-size="34.5" fill="#fff" stroke="#fff" stroke-width="0.7">A</text><text transform="translate(651.27,645.85) rotate(4.31) scale(0.89,1)" text-anchor="middle" font-size="34.5" fill="#fff" stroke="#fff" stroke-width="0.7">c</text><text transform="translate(664.83,646.79) rotate(3.69) scale(0.89,1)" text-anchor="middle" font-size="34.5" fill="#fff" stroke="#fff" stroke-width="0.7">t</text><text transform="translate(674.16,647.36) rotate(3.27) scale(0.89,1)" text-anchor="middle" font-size="34.5" fill="#fff" stroke="#fff" stroke-width="0.7">i</text><text transform="translate(686.89,648.03) rotate(2.7) scale(0.89,1)" text-anchor="middle" font-size="34.5" fill="#fff" stroke="#fff" stroke-width="0.7">v</text><text transform="translate(703.89,648.72) rotate(1.96) scale(0.89,1)" text-anchor="middle" font-size="34.5" fill="#fff" stroke="#fff" stroke-width="0.7">e</text><text transform="translate(732.77,649.39) rotate(0.72) scale(0.89,1)" text-anchor="middle" font-size="34.5" fill="#fff" stroke="#fff" stroke-width="0.7">O</text><text transform="translate(756.56,649.48) rotate(-0.29) scale(0.89,1)" text-anchor="middle" font-size="34.5" fill="#fff" stroke="#fff" stroke-width="0.7">w</text><text transform="translate(777.79,649.21) rotate(-1.19) scale(0.89,1)" text-anchor="middle" font-size="34.5" fill="#fff" stroke="#fff" stroke-width="0.7">n</text><text transform="translate(795.63,648.72) rotate(-1.96) scale(0.89,1)" text-anchor="middle" font-size="34.5" fill="#fff" stroke="#fff" stroke-width="0.7">e</text><text transform="translate(810.07,648.14) rotate(-2.59) scale(0.89,1)" text-anchor="middle" font-size="34.5" fill="#fff" stroke="#fff" stroke-width="0.7">r</text><text transform="translate(824.51,647.41) rotate(-3.23) scale(0.89,1)" text-anchor="middle" font-size="34.5" fill="#fff" stroke="#fff" stroke-width="0.7">s</text><text transform="translate(842.32,646.28) rotate(-4.04) scale(0.89,1)" text-anchor="middle" font-size="34.5" fill="#fff" stroke="#fff" stroke-width="0.7">h</text><text transform="translate(855.87,645.24) rotate(-4.67) scale(0.89,1)" text-anchor="middle" font-size="34.5" fill="#fff" stroke="#fff" stroke-width="0.7">i</text><text transform="translate(869.4,644.06) rotate(-5.32) scale(0.89,1)" text-anchor="middle" font-size="34.5" fill="#fff" stroke="#fff" stroke-width="0.7">p</text>
<text transform="translate(647.23,775.23) rotate(4.5) scale(0.87,1)" text-anchor="middle" font-size="34.5" fill="#fff" stroke="#fff" stroke-width="0.7">E</text><text transform="translate(667.11,776.64) rotate(3.59) scale(0.87,1)" text-anchor="middle" font-size="34.5" fill="#fff" stroke="#fff" stroke-width="0.7">S</text><text transform="translate(688.66,777.81) rotate(2.63) scale(0.87,1)" text-anchor="middle" font-size="34.5" fill="#fff" stroke="#fff" stroke-width="0.7">G</text><text transform="translate(712.72,778.69) rotate(1.58) scale(0.87,1)" text-anchor="middle" font-size="34.5" fill="#fff" stroke="#fff" stroke-width="0.7">I</text><text transform="translate(725.99,778.99) rotate(1.01) scale(0.87,1)" text-anchor="middle" font-size="34.5" fill="#fff" stroke="#fff" stroke-width="0.7">n</text><text transform="translate(740.09,779.17) rotate(0.41) scale(0.87,1)" text-anchor="middle" font-size="34.5" fill="#fff" stroke="#fff" stroke-width="0.7">t</text><text transform="translate(753.38,779.2) rotate(-0.15) scale(0.87,1)" text-anchor="middle" font-size="34.5" fill="#fff" stroke="#fff" stroke-width="0.7">e</text><text transform="translate(770.81,779.04) rotate(-0.9) scale(0.87,1)" text-anchor="middle" font-size="34.5" fill="#fff" stroke="#fff" stroke-width="0.7">g</text><text transform="translate(785.75,778.72) rotate(-1.54) scale(0.87,1)" text-anchor="middle" font-size="34.5" fill="#fff" stroke="#fff" stroke-width="0.7">r</text><text transform="translate(799.86,778.26) rotate(-2.15) scale(0.87,1)" text-anchor="middle" font-size="34.5" fill="#fff" stroke="#fff" stroke-width="0.7">a</text><text transform="translate(813.14,777.7) rotate(-2.73) scale(0.87,1)" text-anchor="middle" font-size="34.5" fill="#fff" stroke="#fff" stroke-width="0.7">t</text><text transform="translate(822.25,777.23) rotate(-3.13) scale(0.87,1)" text-anchor="middle" font-size="34.5" fill="#fff" stroke="#fff" stroke-width="0.7">i</text><text transform="translate(835.5,776.44) rotate(-3.73) scale(0.87,1)" text-anchor="middle" font-size="34.5" fill="#fff" stroke="#fff" stroke-width="0.7">o</text><text transform="translate(853.71,775.12) rotate(-4.57) scale(0.87,1)" text-anchor="middle" font-size="34.5" fill="#fff" stroke="#fff" stroke-width="0.7">n</text>
<text transform="translate(628.98,906.16) rotate(5.38) scale(0.86,1)" text-anchor="middle" font-size="34.5" fill="#fff" stroke="#fff" stroke-width="0.7">F</text><text transform="translate(646.96,907.71) rotate(4.52) scale(0.86,1)" text-anchor="middle" font-size="34.5" fill="#fff" stroke="#fff" stroke-width="0.7">u</text><text transform="translate(664.96,909) rotate(3.69) scale(0.86,1)" text-anchor="middle" font-size="34.5" fill="#fff" stroke="#fff" stroke-width="0.7">n</text><text transform="translate(682.97,910.03) rotate(2.88) scale(0.86,1)" text-anchor="middle" font-size="34.5" fill="#fff" stroke="#fff" stroke-width="0.7">d</text><text transform="translate(700.19,910.79) rotate(2.12) scale(0.86,1)" text-anchor="middle" font-size="34.5" fill="#fff" stroke="#fff" stroke-width="0.7">s</text><text transform="translate(727.27,911.51) rotate(0.96) scale(0.86,1)" text-anchor="middle" font-size="34.5" fill="#fff" stroke="#fff" stroke-width="0.7">&amp;</text><text transform="translate(756,911.69) rotate(-0.27) scale(0.86,1)" text-anchor="middle" font-size="34.5" fill="#fff" stroke="#fff" stroke-width="0.7">S</text><text transform="translate(774.87,911.47) rotate(-1.07) scale(0.86,1)" text-anchor="middle" font-size="34.5" fill="#fff" stroke="#fff" stroke-width="0.7">o</text><text transform="translate(788,911.16) rotate(-1.63) scale(0.86,1)" text-anchor="middle" font-size="34.5" fill="#fff" stroke="#fff" stroke-width="0.7">l</text><text transform="translate(801.12,910.72) rotate(-2.2) scale(0.86,1)" text-anchor="middle" font-size="34.5" fill="#fff" stroke="#fff" stroke-width="0.7">u</text><text transform="translate(815.05,910.11) rotate(-2.81) scale(0.86,1)" text-anchor="middle" font-size="34.5" fill="#fff" stroke="#fff" stroke-width="0.7">t</text><text transform="translate(824.06,909.63) rotate(-3.21) scale(0.86,1)" text-anchor="middle" font-size="34.5" fill="#fff" stroke="#fff" stroke-width="0.7">i</text><text transform="translate(837.16,908.83) rotate(-3.8) scale(0.86,1)" text-anchor="middle" font-size="34.5" fill="#fff" stroke="#fff" stroke-width="0.7">o</text><text transform="translate(855.15,907.5) rotate(-4.64) scale(0.86,1)" text-anchor="middle" font-size="34.5" fill="#fff" stroke="#fff" stroke-width="0.7">n</text><text transform="translate(872.33,905.99) rotate(-5.47) scale(0.86,1)" text-anchor="middle" font-size="34.5" fill="#fff" stroke="#fff" stroke-width="0.7">s</text>
</svg></body></html>
